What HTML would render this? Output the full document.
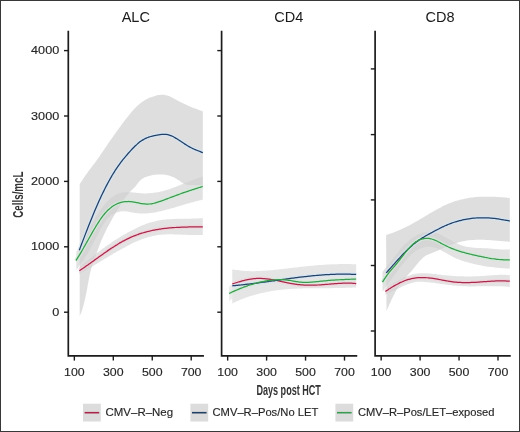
<!DOCTYPE html>
<html><head><meta charset="utf-8"><style>
html,body{margin:0;padding:0;background:#fff;}
body{width:520px;height:432px;overflow:hidden;position:relative;}
.frame{position:absolute;left:0;top:0;width:518px;height:430px;border:1px solid #383838;}
svg{position:absolute;left:0;top:0;will-change:transform;}
text{font-family:"Liberation Sans",sans-serif;fill:#262626;}
.tl{font-size:11.5px;stroke:#262626;stroke-width:0.15px;}
.tt{font-size:14.5px;fill:#1a1a1a;}
.lg{font-size:11.4px;stroke:#262626;stroke-width:0.15px;}
.at{font-size:14.5px;font-weight:bold;fill:#333;}
</style></head><body>
<div class="frame"></div>
<svg width="520" height="432" viewBox="0 0 520 432">
<path d="M79.70,184.35 C79.95,183.93 80.71,182.66 81.22,181.85 C81.73,181.04 82.23,180.25 82.74,179.47 C83.25,178.70 83.75,177.94 84.26,177.20 C84.77,176.46 85.27,175.73 85.78,175.01 C86.29,174.30 86.79,173.59 87.30,172.90 C87.81,172.20 88.31,171.52 88.82,170.84 C89.33,170.15 89.83,169.48 90.34,168.81 C90.84,168.14 91.35,167.47 91.86,166.80 C92.36,166.13 92.87,165.46 93.38,164.79 C93.88,164.12 94.39,163.45 94.90,162.77 C95.40,162.09 95.91,161.40 96.42,160.71 C96.92,160.01 97.43,159.31 97.94,158.60 C98.44,157.89 98.95,157.17 99.46,156.44 C99.96,155.72 100.47,154.99 100.98,154.25 C101.48,153.52 101.99,152.77 102.50,152.03 C103.00,151.29 103.51,150.54 104.02,149.79 C104.52,149.05 105.03,148.30 105.54,147.55 C106.04,146.80 106.55,146.05 107.06,145.31 C107.56,144.56 108.07,143.82 108.58,143.08 C109.08,142.34 109.59,141.60 110.10,140.86 C110.60,140.13 111.11,139.40 111.61,138.67 C112.12,137.94 112.63,137.21 113.13,136.49 C113.64,135.76 114.15,135.04 114.65,134.33 C115.16,133.61 115.67,132.89 116.17,132.18 C116.68,131.47 117.19,130.77 117.69,130.06 C118.20,129.36 118.71,128.66 119.21,127.97 C119.72,127.27 120.23,126.58 120.73,125.89 C121.24,125.20 121.75,124.52 122.25,123.84 C122.76,123.16 123.27,122.48 123.77,121.81 C124.28,121.14 124.79,120.47 125.29,119.81 C125.80,119.15 126.31,118.49 126.81,117.84 C127.32,117.18 127.83,116.54 128.33,115.90 C128.84,115.26 129.35,114.63 129.85,114.01 C130.36,113.39 130.87,112.77 131.37,112.17 C131.88,111.58 132.38,110.99 132.89,110.42 C133.40,109.85 133.90,109.29 134.41,108.75 C134.92,108.21 135.42,107.68 135.93,107.18 C136.44,106.67 136.94,106.18 137.45,105.72 C137.96,105.25 138.46,104.81 138.97,104.38 C139.48,103.95 139.98,103.55 140.49,103.16 C141.00,102.77 141.50,102.40 142.01,102.05 C142.52,101.69 143.02,101.36 143.53,101.03 C144.04,100.71 144.54,100.41 145.05,100.12 C145.56,99.82 146.06,99.55 146.57,99.28 C147.08,99.02 147.58,98.77 148.09,98.53 C148.60,98.29 149.10,98.06 149.61,97.85 C150.12,97.63 150.62,97.42 151.13,97.23 C151.63,97.03 152.14,96.84 152.65,96.66 C153.15,96.48 153.66,96.31 154.17,96.16 C154.67,96.00 155.18,95.85 155.69,95.72 C156.19,95.58 156.70,95.46 157.21,95.35 C157.71,95.25 158.22,95.15 158.73,95.08 C159.23,95.00 159.74,94.94 160.25,94.89 C160.75,94.85 161.26,94.82 161.77,94.82 C162.27,94.81 162.78,94.82 163.29,94.86 C163.79,94.89 164.30,94.94 164.81,95.02 C165.31,95.10 165.82,95.20 166.33,95.32 C166.83,95.45 167.34,95.59 167.85,95.76 C168.35,95.93 168.86,96.12 169.37,96.33 C169.87,96.53 170.38,96.76 170.89,97.00 C171.39,97.23 171.90,97.48 172.40,97.74 C172.91,98.00 173.42,98.27 173.92,98.54 C174.43,98.81 174.94,99.09 175.44,99.36 C175.95,99.64 176.46,99.92 176.96,100.19 C177.47,100.47 177.98,100.74 178.48,101.01 C178.99,101.28 179.50,101.55 180.00,101.81 C180.51,102.07 181.02,102.33 181.52,102.59 C182.03,102.85 182.54,103.10 183.04,103.35 C183.55,103.60 184.06,103.85 184.56,104.09 C185.07,104.33 185.58,104.57 186.08,104.81 C186.59,105.04 187.10,105.27 187.60,105.50 C188.11,105.72 188.62,105.94 189.12,106.16 C189.63,106.38 190.14,106.59 190.64,106.80 C191.15,107.01 191.66,107.21 192.16,107.41 C192.67,107.61 193.17,107.80 193.68,107.99 C194.19,108.19 194.69,108.37 195.20,108.56 C195.71,108.75 196.21,108.93 196.72,109.12 C197.23,109.30 197.73,109.49 198.24,109.67 C198.75,109.86 199.25,110.04 199.76,110.23 C200.27,110.42 200.77,110.61 201.28,110.80 C201.79,111.00 202.55,111.30 202.80,111.40 L202.80,186.50 C202.55,186.40 201.79,186.06 201.28,185.90 C200.77,185.73 200.27,185.61 199.76,185.50 C199.25,185.40 198.75,185.33 198.24,185.27 C197.73,185.22 197.23,185.19 196.72,185.17 C196.21,185.15 195.71,185.15 195.20,185.15 C194.69,185.15 194.19,185.17 193.68,185.18 C193.17,185.19 192.67,185.21 192.16,185.21 C191.66,185.22 191.15,185.23 190.64,185.22 C190.14,185.20 189.63,185.19 189.12,185.14 C188.62,185.10 188.11,185.05 187.60,184.96 C187.10,184.87 186.59,184.76 186.08,184.62 C185.58,184.47 185.07,184.30 184.56,184.09 C184.06,183.87 183.55,183.62 183.04,183.32 C182.54,183.03 182.03,182.67 181.52,182.32 C181.02,181.97 180.51,181.57 180.00,181.20 C179.50,180.84 178.99,180.46 178.48,180.12 C177.98,179.78 177.47,179.45 176.96,179.14 C176.46,178.84 175.95,178.55 175.44,178.27 C174.94,178.00 174.43,177.74 173.92,177.50 C173.42,177.26 172.91,177.03 172.40,176.82 C171.90,176.61 171.39,176.41 170.89,176.23 C170.38,176.05 169.87,175.89 169.37,175.73 C168.86,175.58 168.35,175.44 167.85,175.32 C167.34,175.19 166.83,175.08 166.33,174.99 C165.82,174.89 165.31,174.80 164.81,174.73 C164.30,174.65 163.79,174.59 163.29,174.54 C162.78,174.49 162.27,174.45 161.77,174.43 C161.26,174.40 160.75,174.39 160.25,174.38 C159.74,174.38 159.23,174.39 158.73,174.40 C158.22,174.42 157.71,174.45 157.21,174.49 C156.70,174.53 156.19,174.58 155.69,174.64 C155.18,174.70 154.67,174.77 154.17,174.85 C153.66,174.93 153.15,175.02 152.65,175.12 C152.14,175.22 151.63,175.32 151.13,175.44 C150.62,175.56 150.12,175.69 149.61,175.82 C149.10,175.96 148.60,176.10 148.09,176.25 C147.58,176.41 147.08,176.56 146.57,176.74 C146.06,176.92 145.56,177.10 145.05,177.32 C144.54,177.54 144.04,177.78 143.53,178.06 C143.02,178.34 142.52,178.65 142.01,179.02 C141.50,179.39 141.00,179.80 140.49,180.28 C139.98,180.75 139.48,181.30 138.97,181.87 C138.46,182.45 137.96,183.09 137.45,183.72 C136.94,184.35 136.44,185.02 135.93,185.64 C135.42,186.26 134.92,186.88 134.41,187.45 C133.90,188.02 133.40,188.54 132.89,189.06 C132.38,189.58 131.88,190.06 131.37,190.57 C130.87,191.08 130.36,191.57 129.85,192.10 C129.35,192.63 128.84,193.17 128.33,193.76 C127.83,194.34 127.32,194.96 126.81,195.61 C126.31,196.25 125.80,196.93 125.29,197.62 C124.79,198.32 124.28,199.05 123.77,199.79 C123.27,200.53 122.76,201.30 122.25,202.08 C121.75,202.86 121.24,203.66 120.73,204.47 C120.23,205.29 119.72,206.12 119.21,206.95 C118.71,207.79 118.20,208.64 117.69,209.49 C117.19,210.34 116.68,211.21 116.17,212.07 C115.67,212.93 115.16,213.80 114.65,214.67 C114.15,215.54 113.64,216.40 113.13,217.28 C112.63,218.15 112.12,219.03 111.61,219.92 C111.11,220.82 110.60,221.72 110.10,222.63 C109.59,223.55 109.08,224.48 108.58,225.43 C108.07,226.38 107.56,227.34 107.06,228.34 C106.55,229.33 106.04,230.34 105.54,231.38 C105.03,232.43 104.52,233.49 104.02,234.60 C103.51,235.70 103.00,236.83 102.50,238.00 C101.99,239.17 101.48,240.37 100.98,241.62 C100.47,242.86 99.96,244.15 99.46,245.47 C98.95,246.80 98.44,248.20 97.94,249.59 C97.43,250.99 96.92,252.44 96.42,253.85 C95.91,255.26 95.40,256.68 94.90,258.04 C94.39,259.40 93.88,260.64 93.38,262.03 C92.87,263.42 92.36,264.72 91.86,266.39 C91.35,268.07 90.84,269.88 90.34,272.07 C89.83,274.26 89.33,276.91 88.82,279.52 C88.31,282.13 87.81,285.07 87.30,287.74 C86.79,290.41 86.29,293.12 85.78,295.54 C85.27,297.96 84.77,300.21 84.26,302.27 C83.75,304.34 83.25,306.22 82.74,307.92 C82.23,309.63 81.73,311.15 81.22,312.49 C80.71,313.84 79.95,315.41 79.70,315.99 Z" fill="#d0d0d0" fill-opacity="0.7" stroke="none"/>
<path d="M76.30,252.20 C76.55,251.78 77.32,250.52 77.82,249.66 C78.33,248.80 78.84,247.92 79.35,247.03 C79.86,246.14 80.36,245.23 80.87,244.32 C81.38,243.40 81.89,242.47 82.40,241.54 C82.90,240.61 83.41,239.67 83.92,238.72 C84.43,237.78 84.94,236.83 85.44,235.88 C85.95,234.92 86.46,233.97 86.97,233.02 C87.48,232.06 87.98,231.11 88.49,230.16 C89.00,229.22 89.51,228.27 90.02,227.33 C90.52,226.39 91.03,225.46 91.54,224.54 C92.05,223.62 92.56,222.70 93.07,221.80 C93.57,220.90 94.08,220.01 94.59,219.13 C95.10,218.26 95.61,217.40 96.11,216.56 C96.62,215.72 97.13,214.89 97.64,214.09 C98.15,213.28 98.65,212.50 99.16,211.74 C99.67,210.98 100.18,210.24 100.69,209.53 C101.19,208.81 101.70,208.12 102.21,207.45 C102.72,206.78 103.23,206.13 103.73,205.51 C104.24,204.88 104.75,204.28 105.26,203.70 C105.77,203.12 106.27,202.57 106.78,202.03 C107.29,201.50 107.80,200.99 108.31,200.50 C108.81,200.01 109.32,199.54 109.83,199.10 C110.34,198.65 110.85,198.23 111.35,197.83 C111.86,197.42 112.37,197.05 112.88,196.69 C113.39,196.33 113.89,196.00 114.40,195.68 C114.91,195.37 115.42,195.08 115.93,194.81 C116.43,194.54 116.94,194.29 117.45,194.06 C117.96,193.84 118.47,193.63 118.97,193.45 C119.48,193.26 119.99,193.10 120.50,192.96 C121.01,192.82 121.51,192.70 122.02,192.60 C122.53,192.49 123.04,192.41 123.55,192.34 C124.06,192.28 124.56,192.23 125.07,192.19 C125.58,192.15 126.09,192.13 126.60,192.12 C127.10,192.11 127.61,192.11 128.12,192.12 C128.63,192.13 129.14,192.15 129.64,192.18 C130.15,192.21 130.66,192.25 131.17,192.29 C131.68,192.33 132.18,192.38 132.69,192.43 C133.20,192.48 133.71,192.54 134.22,192.60 C134.72,192.66 135.23,192.72 135.74,192.77 C136.25,192.83 136.76,192.89 137.26,192.95 C137.77,193.00 138.28,193.06 138.79,193.10 C139.30,193.15 139.80,193.19 140.31,193.23 C140.82,193.27 141.33,193.30 141.84,193.32 C142.34,193.35 142.85,193.37 143.36,193.38 C143.87,193.39 144.38,193.40 144.88,193.39 C145.39,193.39 145.90,193.39 146.41,193.38 C146.92,193.36 147.42,193.35 147.93,193.32 C148.44,193.30 148.95,193.27 149.46,193.23 C149.96,193.20 150.47,193.15 150.98,193.11 C151.49,193.06 152.00,193.01 152.50,192.95 C153.01,192.89 153.52,192.83 154.03,192.76 C154.54,192.69 155.04,192.61 155.55,192.53 C156.06,192.45 156.57,192.37 157.08,192.28 C157.59,192.19 158.09,192.09 158.60,191.99 C159.11,191.89 159.62,191.78 160.13,191.67 C160.63,191.56 161.14,191.44 161.65,191.32 C162.16,191.20 162.67,191.07 163.17,190.94 C163.68,190.81 164.19,190.68 164.70,190.54 C165.21,190.39 165.71,190.25 166.22,190.10 C166.73,189.95 167.24,189.79 167.75,189.64 C168.25,189.48 168.76,189.31 169.27,189.15 C169.78,188.98 170.29,188.81 170.79,188.64 C171.30,188.46 171.81,188.28 172.32,188.10 C172.83,187.92 173.33,187.74 173.84,187.55 C174.35,187.37 174.86,187.18 175.37,186.99 C175.87,186.80 176.38,186.60 176.89,186.41 C177.40,186.21 177.91,186.01 178.41,185.82 C178.92,185.62 179.43,185.42 179.94,185.21 C180.45,185.01 180.95,184.81 181.46,184.60 C181.97,184.40 182.48,184.20 182.99,183.99 C183.49,183.78 184.00,183.58 184.51,183.37 C185.02,183.17 185.53,182.96 186.03,182.75 C186.54,182.55 187.05,182.34 187.56,182.14 C188.07,181.93 188.58,181.73 189.08,181.52 C189.59,181.32 190.10,181.11 190.61,180.91 C191.12,180.71 191.62,180.51 192.13,180.31 C192.64,180.11 193.15,179.92 193.66,179.72 C194.16,179.53 194.67,179.33 195.18,179.14 C195.69,178.95 196.20,178.76 196.70,178.58 C197.21,178.39 197.72,178.21 198.23,178.03 C198.74,177.85 199.24,177.67 199.75,177.50 C200.26,177.32 200.77,177.15 201.28,176.99 C201.78,176.82 202.55,176.58 202.80,176.50 L202.80,199.57 C202.55,199.63 201.78,199.80 201.28,199.92 C200.77,200.04 200.26,200.17 199.75,200.29 C199.24,200.41 198.74,200.54 198.23,200.67 C197.72,200.80 197.21,200.93 196.70,201.06 C196.20,201.19 195.69,201.33 195.18,201.46 C194.67,201.60 194.16,201.74 193.66,201.88 C193.15,202.02 192.64,202.16 192.13,202.30 C191.62,202.44 191.12,202.58 190.61,202.73 C190.10,202.87 189.59,203.02 189.08,203.16 C188.58,203.31 188.07,203.46 187.56,203.61 C187.05,203.75 186.54,203.90 186.03,204.05 C185.53,204.20 185.02,204.35 184.51,204.50 C184.00,204.65 183.49,204.80 182.99,204.95 C182.48,205.10 181.97,205.26 181.46,205.41 C180.95,205.56 180.45,205.71 179.94,205.86 C179.43,206.01 178.92,206.16 178.41,206.31 C177.91,206.46 177.40,206.61 176.89,206.76 C176.38,206.91 175.87,207.06 175.37,207.21 C174.86,207.36 174.35,207.51 173.84,207.65 C173.33,207.80 172.83,207.95 172.32,208.09 C171.81,208.24 171.30,208.38 170.79,208.52 C170.29,208.66 169.78,208.81 169.27,208.95 C168.76,209.09 168.25,209.22 167.75,209.36 C167.24,209.50 166.73,209.63 166.22,209.77 C165.71,209.90 165.21,210.03 164.70,210.16 C164.19,210.29 163.68,210.42 163.17,210.54 C162.67,210.67 162.16,210.79 161.65,210.92 C161.14,211.04 160.63,211.16 160.13,211.27 C159.62,211.39 159.11,211.50 158.60,211.61 C158.09,211.72 157.59,211.83 157.08,211.93 C156.57,212.04 156.06,212.14 155.55,212.23 C155.04,212.33 154.54,212.42 154.03,212.51 C153.52,212.60 153.01,212.68 152.50,212.76 C152.00,212.84 151.49,212.91 150.98,212.98 C150.47,213.05 149.96,213.11 149.46,213.17 C148.95,213.23 148.44,213.28 147.93,213.32 C147.42,213.37 146.92,213.41 146.41,213.44 C145.90,213.48 145.39,213.50 144.88,213.52 C144.38,213.54 143.87,213.55 143.36,213.56 C142.85,213.57 142.34,213.56 141.84,213.55 C141.33,213.54 140.82,213.53 140.31,213.50 C139.80,213.47 139.30,213.44 138.79,213.40 C138.28,213.36 137.77,213.30 137.26,213.24 C136.76,213.18 136.25,213.11 135.74,213.04 C135.23,212.96 134.72,212.87 134.22,212.78 C133.71,212.69 133.20,212.60 132.69,212.50 C132.18,212.41 131.68,212.31 131.17,212.21 C130.66,212.12 130.15,212.02 129.64,211.93 C129.14,211.85 128.63,211.76 128.12,211.69 C127.61,211.61 127.10,211.54 126.60,211.49 C126.09,211.43 125.58,211.38 125.07,211.36 C124.56,211.33 124.06,211.31 123.55,211.31 C123.04,211.31 122.53,211.33 122.02,211.37 C121.51,211.41 121.01,211.47 120.50,211.56 C119.99,211.64 119.48,211.76 118.97,211.89 C118.47,212.02 117.96,212.18 117.45,212.34 C116.94,212.51 116.43,212.70 115.93,212.90 C115.42,213.09 114.91,213.29 114.40,213.52 C113.89,213.74 113.39,213.96 112.88,214.23 C112.37,214.49 111.86,214.78 111.35,215.12 C110.85,215.46 110.34,215.84 109.83,216.28 C109.32,216.72 108.81,217.22 108.31,217.77 C107.80,218.31 107.29,218.92 106.78,219.56 C106.27,220.21 105.77,220.90 105.26,221.63 C104.75,222.36 104.24,223.13 103.73,223.93 C103.23,224.74 102.72,225.57 102.21,226.43 C101.70,227.29 101.19,228.19 100.69,229.09 C100.18,230.00 99.67,230.93 99.16,231.87 C98.65,232.81 98.15,233.77 97.64,234.74 C97.13,235.70 96.62,236.68 96.11,237.66 C95.61,238.64 95.10,239.62 94.59,240.60 C94.08,241.59 93.57,242.57 93.07,243.54 C92.56,244.52 92.05,245.49 91.54,246.45 C91.03,247.41 90.52,248.36 90.02,249.29 C89.51,250.22 89.00,251.14 88.49,252.03 C87.98,252.93 87.48,253.80 86.97,254.65 C86.46,255.50 85.95,256.32 85.44,257.11 C84.94,257.91 84.43,258.67 83.92,259.42 C83.41,260.17 82.90,260.89 82.40,261.61 C81.89,262.33 81.38,263.03 80.87,263.72 C80.36,264.42 79.86,265.11 79.35,265.80 C78.84,266.49 78.33,267.18 77.82,267.88 C77.32,268.59 76.55,269.66 76.30,270.01 Z" fill="#d0d0d0" fill-opacity="0.62" stroke="none"/>
<path d="M79.30,267.48 C79.55,267.26 80.32,266.60 80.82,266.17 C81.33,265.74 81.84,265.30 82.35,264.87 C82.86,264.44 83.37,264.02 83.87,263.59 C84.38,263.16 84.89,262.74 85.40,262.32 C85.91,261.89 86.42,261.47 86.92,261.05 C87.43,260.63 87.94,260.22 88.45,259.80 C88.96,259.39 89.46,258.97 89.97,258.56 C90.48,258.15 90.99,257.74 91.50,257.34 C92.01,256.93 92.51,256.53 93.02,256.12 C93.53,255.72 94.04,255.32 94.55,254.92 C95.06,254.53 95.56,254.13 96.07,253.74 C96.58,253.34 97.09,252.95 97.60,252.56 C98.10,252.17 98.61,251.79 99.12,251.40 C99.63,251.02 100.14,250.64 100.65,250.26 C101.15,249.88 101.66,249.50 102.17,249.12 C102.68,248.75 103.19,248.38 103.70,248.01 C104.20,247.64 104.71,247.27 105.22,246.90 C105.73,246.54 106.24,246.18 106.74,245.82 C107.25,245.46 107.76,245.10 108.27,244.74 C108.78,244.39 109.29,244.04 109.79,243.69 C110.30,243.34 110.81,242.99 111.32,242.65 C111.83,242.30 112.33,241.96 112.84,241.62 C113.35,241.28 113.86,240.95 114.37,240.61 C114.88,240.28 115.38,239.95 115.89,239.62 C116.40,239.30 116.91,238.97 117.42,238.65 C117.93,238.33 118.43,238.01 118.94,237.69 C119.45,237.38 119.96,237.06 120.47,236.75 C120.97,236.44 121.48,236.14 121.99,235.83 C122.50,235.53 123.01,235.23 123.52,234.93 C124.02,234.63 124.53,234.33 125.04,234.04 C125.55,233.75 126.06,233.46 126.57,233.18 C127.07,232.89 127.58,232.61 128.09,232.33 C128.60,232.05 129.11,231.77 129.61,231.50 C130.12,231.23 130.63,230.96 131.14,230.69 C131.65,230.42 132.16,230.16 132.66,229.90 C133.17,229.64 133.68,229.39 134.19,229.13 C134.70,228.88 135.21,228.63 135.71,228.38 C136.22,228.14 136.73,227.89 137.24,227.66 C137.75,227.42 138.25,227.18 138.76,226.95 C139.27,226.72 139.78,226.50 140.29,226.27 C140.80,226.05 141.30,225.83 141.81,225.62 C142.32,225.41 142.83,225.20 143.34,224.99 C143.85,224.79 144.35,224.59 144.86,224.40 C145.37,224.20 145.88,224.01 146.39,223.83 C146.89,223.65 147.40,223.47 147.91,223.30 C148.42,223.12 148.93,222.95 149.44,222.79 C149.94,222.63 150.45,222.48 150.96,222.33 C151.47,222.18 151.98,222.03 152.49,221.89 C152.99,221.76 153.50,221.62 154.01,221.50 C154.52,221.37 155.03,221.25 155.53,221.14 C156.04,221.03 156.55,220.92 157.06,220.82 C157.57,220.71 158.08,220.62 158.58,220.53 C159.09,220.43 159.60,220.35 160.11,220.27 C160.62,220.18 161.13,220.11 161.63,220.03 C162.14,219.96 162.65,219.89 163.16,219.83 C163.67,219.76 164.17,219.70 164.68,219.65 C165.19,219.59 165.70,219.54 166.21,219.49 C166.72,219.44 167.22,219.40 167.73,219.35 C168.24,219.31 168.75,219.27 169.26,219.24 C169.77,219.20 170.27,219.17 170.78,219.14 C171.29,219.10 171.80,219.08 172.31,219.05 C172.81,219.02 173.32,219.00 173.83,218.98 C174.34,218.96 174.85,218.94 175.36,218.92 C175.86,218.90 176.37,218.89 176.88,218.87 C177.39,218.86 177.90,218.84 178.40,218.83 C178.91,218.82 179.42,218.81 179.93,218.80 C180.44,218.79 180.95,218.78 181.45,218.77 C181.96,218.76 182.47,218.76 182.98,218.75 C183.49,218.74 184.00,218.73 184.50,218.73 C185.01,218.72 185.52,218.72 186.03,218.71 C186.54,218.70 187.04,218.70 187.55,218.69 C188.06,218.68 188.57,218.67 189.08,218.67 C189.59,218.66 190.09,218.65 190.60,218.64 C191.11,218.63 191.62,218.62 192.13,218.61 C192.64,218.59 193.14,218.58 193.65,218.57 C194.16,218.55 194.67,218.54 195.18,218.52 C195.68,218.50 196.19,218.48 196.70,218.46 C197.21,218.44 197.72,218.41 198.23,218.39 C198.73,218.36 199.24,218.33 199.75,218.30 C200.26,218.27 200.77,218.24 201.28,218.20 C201.78,218.17 202.55,218.10 202.80,218.08 L202.80,234.98 C202.55,234.99 201.78,235.03 201.28,235.04 C200.77,235.06 200.26,235.08 199.75,235.09 C199.24,235.10 198.73,235.11 198.23,235.11 C197.72,235.12 197.21,235.12 196.70,235.12 C196.19,235.12 195.68,235.12 195.18,235.11 C194.67,235.11 194.16,235.10 193.65,235.09 C193.14,235.08 192.64,235.07 192.13,235.06 C191.62,235.04 191.11,235.03 190.60,235.01 C190.09,235.00 189.59,234.98 189.08,234.96 C188.57,234.94 188.06,234.92 187.55,234.90 C187.04,234.88 186.54,234.86 186.03,234.84 C185.52,234.82 185.01,234.79 184.50,234.77 C184.00,234.75 183.49,234.73 182.98,234.70 C182.47,234.68 181.96,234.66 181.45,234.64 C180.95,234.62 180.44,234.59 179.93,234.57 C179.42,234.55 178.91,234.53 178.40,234.51 C177.90,234.49 177.39,234.48 176.88,234.46 C176.37,234.44 175.86,234.43 175.36,234.41 C174.85,234.40 174.34,234.39 173.83,234.38 C173.32,234.37 172.81,234.36 172.31,234.35 C171.80,234.35 171.29,234.34 170.78,234.34 C170.27,234.34 169.77,234.34 169.26,234.34 C168.75,234.35 168.24,234.35 167.73,234.36 C167.22,234.37 166.72,234.39 166.21,234.40 C165.70,234.42 165.19,234.44 164.68,234.47 C164.17,234.49 163.67,234.52 163.16,234.55 C162.65,234.58 162.14,234.62 161.63,234.66 C161.13,234.71 160.62,234.75 160.11,234.80 C159.60,234.86 159.09,234.91 158.58,234.98 C158.08,235.04 157.57,235.11 157.06,235.18 C156.55,235.25 156.04,235.33 155.53,235.42 C155.03,235.51 154.52,235.60 154.01,235.70 C153.50,235.80 152.99,235.91 152.49,236.02 C151.98,236.13 151.47,236.25 150.96,236.38 C150.45,236.51 149.94,236.64 149.44,236.78 C148.93,236.92 148.42,237.07 147.91,237.22 C147.40,237.37 146.89,237.53 146.39,237.69 C145.88,237.86 145.37,238.03 144.86,238.20 C144.35,238.38 143.85,238.56 143.34,238.74 C142.83,238.93 142.32,239.12 141.81,239.32 C141.30,239.51 140.80,239.71 140.29,239.92 C139.78,240.12 139.27,240.33 138.76,240.54 C138.25,240.76 137.75,240.98 137.24,241.20 C136.73,241.42 136.22,241.65 135.71,241.87 C135.21,242.10 134.70,242.34 134.19,242.57 C133.68,242.81 133.17,243.05 132.66,243.29 C132.16,243.53 131.65,243.78 131.14,244.03 C130.63,244.28 130.12,244.53 129.61,244.78 C129.11,245.04 128.60,245.30 128.09,245.56 C127.58,245.82 127.07,246.08 126.57,246.34 C126.06,246.61 125.55,246.88 125.04,247.15 C124.53,247.42 124.02,247.69 123.52,247.97 C123.01,248.24 122.50,248.52 121.99,248.80 C121.48,249.08 120.97,249.36 120.47,249.64 C119.96,249.92 119.45,250.21 118.94,250.50 C118.43,250.78 117.93,251.07 117.42,251.36 C116.91,251.65 116.40,251.94 115.89,252.24 C115.38,252.53 114.88,252.83 114.37,253.12 C113.86,253.42 113.35,253.72 112.84,254.01 C112.33,254.31 111.83,254.61 111.32,254.91 C110.81,255.21 110.30,255.52 109.79,255.82 C109.29,256.12 108.78,256.42 108.27,256.73 C107.76,257.03 107.25,257.34 106.74,257.64 C106.24,257.95 105.73,258.26 105.22,258.56 C104.71,258.87 104.20,259.18 103.70,259.48 C103.19,259.79 102.68,260.10 102.17,260.40 C101.66,260.71 101.15,261.02 100.65,261.33 C100.14,261.63 99.63,261.94 99.12,262.25 C98.61,262.56 98.10,262.86 97.60,263.17 C97.09,263.48 96.58,263.78 96.07,264.09 C95.56,264.39 95.06,264.70 94.55,265.00 C94.04,265.31 93.53,265.61 93.02,265.92 C92.51,266.22 92.01,266.52 91.50,266.82 C90.99,267.12 90.48,267.42 89.97,267.72 C89.46,268.02 88.96,268.32 88.45,268.62 C87.94,268.91 87.43,269.21 86.92,269.50 C86.42,269.80 85.91,270.09 85.40,270.38 C84.89,270.67 84.38,270.96 83.87,271.25 C83.37,271.54 82.86,271.82 82.35,272.11 C81.84,272.39 81.33,272.67 80.82,272.95 C80.32,273.23 79.55,273.65 79.30,273.79 Z" fill="#d0d0d0" fill-opacity="0.6" stroke="none"/>
<path d="M232.30,269.37 C232.55,269.42 233.32,269.56 233.83,269.65 C234.34,269.73 234.85,269.82 235.36,269.89 C235.87,269.97 236.38,270.05 236.89,270.12 C237.40,270.19 237.91,270.26 238.42,270.32 C238.93,270.38 239.44,270.44 239.95,270.50 C240.46,270.55 240.97,270.60 241.48,270.65 C241.99,270.70 242.50,270.74 243.01,270.78 C243.52,270.82 244.03,270.86 244.54,270.89 C245.05,270.93 245.56,270.96 246.07,270.99 C246.58,271.01 247.09,271.04 247.60,271.06 C248.11,271.08 248.62,271.10 249.13,271.11 C249.64,271.12 250.15,271.14 250.66,271.14 C251.17,271.15 251.68,271.16 252.19,271.16 C252.70,271.16 253.20,271.16 253.71,271.16 C254.22,271.16 254.73,271.15 255.24,271.15 C255.75,271.14 256.26,271.13 256.77,271.12 C257.28,271.10 257.79,271.09 258.30,271.07 C258.81,271.05 259.32,271.03 259.83,271.01 C260.34,270.99 260.85,270.97 261.36,270.94 C261.87,270.92 262.38,270.89 262.89,270.86 C263.40,270.83 263.91,270.80 264.42,270.76 C264.93,270.73 265.44,270.69 265.95,270.66 C266.46,270.62 266.97,270.58 267.48,270.54 C267.99,270.50 268.50,270.46 269.01,270.42 C269.52,270.37 270.03,270.33 270.54,270.28 C271.05,270.24 271.56,270.19 272.07,270.14 C272.58,270.09 273.09,270.04 273.60,269.99 C274.11,269.94 274.62,269.89 275.13,269.83 C275.64,269.78 276.15,269.73 276.66,269.67 C277.17,269.62 277.68,269.56 278.19,269.51 C278.70,269.45 279.21,269.39 279.72,269.34 C280.23,269.28 280.74,269.22 281.25,269.16 C281.76,269.11 282.27,269.05 282.78,268.99 C283.29,268.93 283.80,268.87 284.31,268.81 C284.82,268.75 285.33,268.69 285.84,268.63 C286.35,268.57 286.86,268.51 287.37,268.45 C287.88,268.39 288.39,268.33 288.90,268.27 C289.41,268.21 289.92,268.15 290.43,268.09 C290.94,268.03 291.45,267.97 291.96,267.91 C292.47,267.85 292.98,267.79 293.49,267.73 C294.00,267.68 294.50,267.62 295.01,267.56 C295.52,267.50 296.03,267.44 296.54,267.38 C297.05,267.33 297.56,267.27 298.07,267.21 C298.58,267.16 299.09,267.10 299.60,267.04 C300.11,266.99 300.62,266.93 301.13,266.87 C301.64,266.82 302.15,266.76 302.66,266.71 C303.17,266.65 303.68,266.60 304.19,266.55 C304.70,266.49 305.21,266.44 305.72,266.39 C306.23,266.33 306.74,266.28 307.25,266.23 C307.76,266.18 308.27,266.13 308.78,266.08 C309.29,266.03 309.80,265.98 310.31,265.93 C310.82,265.88 311.33,265.83 311.84,265.78 C312.35,265.73 312.86,265.69 313.37,265.64 C313.88,265.59 314.39,265.55 314.90,265.50 C315.41,265.46 315.92,265.41 316.43,265.37 C316.94,265.33 317.45,265.28 317.96,265.24 C318.47,265.20 318.98,265.16 319.49,265.12 C320.00,265.08 320.51,265.04 321.02,265.00 C321.53,264.97 322.04,264.93 322.55,264.89 C323.06,264.86 323.57,264.82 324.08,264.79 C324.59,264.75 325.10,264.72 325.61,264.69 C326.12,264.66 326.63,264.62 327.14,264.59 C327.65,264.56 328.16,264.54 328.67,264.51 C329.18,264.48 329.69,264.45 330.20,264.43 C330.71,264.40 331.22,264.38 331.73,264.35 C332.24,264.33 332.75,264.31 333.26,264.29 C333.77,264.27 334.28,264.25 334.79,264.23 C335.30,264.21 335.80,264.20 336.31,264.18 C336.82,264.16 337.33,264.15 337.84,264.14 C338.35,264.13 338.86,264.11 339.37,264.10 C339.88,264.09 340.39,264.08 340.90,264.08 C341.41,264.07 341.92,264.06 342.43,264.06 C342.94,264.06 343.45,264.05 343.96,264.05 C344.47,264.05 344.98,264.05 345.49,264.05 C346.00,264.05 346.51,264.06 347.02,264.06 C347.53,264.07 348.04,264.07 348.55,264.08 C349.06,264.09 349.57,264.10 350.08,264.11 C350.59,264.12 351.10,264.14 351.61,264.15 C352.12,264.17 352.63,264.18 353.14,264.20 C353.65,264.22 354.16,264.24 354.67,264.26 C355.18,264.28 355.95,264.32 356.20,264.33 L356.20,287.45 C355.95,287.46 355.18,287.51 354.67,287.54 C354.16,287.57 353.65,287.59 353.14,287.62 C352.63,287.65 352.12,287.67 351.61,287.69 C351.10,287.72 350.59,287.74 350.08,287.76 C349.57,287.78 349.06,287.80 348.55,287.82 C348.04,287.84 347.53,287.86 347.02,287.87 C346.51,287.89 346.00,287.91 345.49,287.92 C344.98,287.93 344.47,287.95 343.96,287.96 C343.45,287.97 342.94,287.98 342.43,288.00 C341.92,288.01 341.41,288.02 340.90,288.03 C340.39,288.04 339.88,288.04 339.37,288.05 C338.86,288.06 338.35,288.07 337.84,288.07 C337.33,288.08 336.82,288.09 336.31,288.09 C335.80,288.10 335.30,288.10 334.79,288.11 C334.28,288.11 333.77,288.12 333.26,288.12 C332.75,288.12 332.24,288.13 331.73,288.13 C331.22,288.13 330.71,288.13 330.20,288.14 C329.69,288.14 329.18,288.14 328.67,288.14 C328.16,288.14 327.65,288.14 327.14,288.15 C326.63,288.15 326.12,288.15 325.61,288.15 C325.10,288.15 324.59,288.15 324.08,288.15 C323.57,288.15 323.06,288.16 322.55,288.16 C322.04,288.16 321.53,288.16 321.02,288.16 C320.51,288.16 320.00,288.16 319.49,288.16 C318.98,288.17 318.47,288.17 317.96,288.17 C317.45,288.17 316.94,288.18 316.43,288.18 C315.92,288.18 315.41,288.18 314.90,288.19 C314.39,288.19 313.88,288.20 313.37,288.20 C312.86,288.21 312.35,288.21 311.84,288.22 C311.33,288.22 310.82,288.23 310.31,288.24 C309.80,288.24 309.29,288.25 308.78,288.26 C308.27,288.27 307.76,288.27 307.25,288.28 C306.74,288.29 306.23,288.30 305.72,288.32 C305.21,288.33 304.70,288.34 304.19,288.35 C303.68,288.37 303.17,288.38 302.66,288.39 C302.15,288.41 301.64,288.43 301.13,288.44 C300.62,288.46 300.11,288.48 299.60,288.50 C299.09,288.52 298.58,288.54 298.07,288.56 C297.56,288.58 297.05,288.60 296.54,288.63 C296.03,288.65 295.52,288.67 295.01,288.70 C294.50,288.73 294.00,288.76 293.49,288.78 C292.98,288.81 292.47,288.84 291.96,288.88 C291.45,288.91 290.94,288.94 290.43,288.98 C289.92,289.01 289.41,289.05 288.90,289.09 C288.39,289.13 287.88,289.17 287.37,289.21 C286.86,289.25 286.35,289.29 285.84,289.34 C285.33,289.38 284.82,289.43 284.31,289.48 C283.80,289.53 283.29,289.58 282.78,289.63 C282.27,289.68 281.76,289.73 281.25,289.79 C280.74,289.85 280.23,289.91 279.72,289.97 C279.21,290.03 278.70,290.09 278.19,290.15 C277.68,290.22 277.17,290.28 276.66,290.35 C276.15,290.42 275.64,290.49 275.13,290.56 C274.62,290.64 274.11,290.71 273.60,290.79 C273.09,290.87 272.58,290.94 272.07,291.03 C271.56,291.11 271.05,291.19 270.54,291.28 C270.03,291.37 269.52,291.46 269.01,291.55 C268.50,291.64 267.99,291.73 267.48,291.83 C266.97,291.93 266.46,292.03 265.95,292.13 C265.44,292.23 264.93,292.34 264.42,292.44 C263.91,292.55 263.40,292.66 262.89,292.78 C262.38,292.89 261.87,293.00 261.36,293.12 C260.85,293.24 260.34,293.36 259.83,293.49 C259.32,293.61 258.81,293.74 258.30,293.87 C257.79,294.00 257.28,294.13 256.77,294.27 C256.26,294.41 255.75,294.55 255.24,294.69 C254.73,294.83 254.22,294.98 253.71,295.13 C253.20,295.28 252.70,295.43 252.19,295.58 C251.68,295.74 251.17,295.90 250.66,296.06 C250.15,296.22 249.64,296.39 249.13,296.56 C248.62,296.73 248.11,296.90 247.60,297.07 C247.09,297.25 246.58,297.43 246.07,297.61 C245.56,297.80 245.05,297.98 244.54,298.17 C244.03,298.36 243.52,298.56 243.01,298.75 C242.50,298.95 241.99,299.15 241.48,299.36 C240.97,299.56 240.46,299.77 239.95,299.98 C239.44,300.20 238.93,300.41 238.42,300.63 C237.91,300.85 237.40,301.08 236.89,301.30 C236.38,301.53 235.87,301.76 235.36,302.00 C234.85,302.24 234.34,302.48 233.83,302.72 C233.32,302.97 232.55,303.34 232.30,303.47 Z" fill="#d0d0d0" fill-opacity="0.56" stroke="none"/>
<path d="M229.10,286.50 C229.37,286.30 230.17,285.72 230.70,285.30 C231.23,284.88 232.03,284.22 232.30,284.00 L232.30,298.50 C232.03,298.72 231.23,299.38 230.70,299.80 C230.17,300.22 229.37,300.80 229.10,301.00 Z" fill="#d0d0d0" fill-opacity="0.4" stroke="none"/>
<path d="M386.10,234.95 C386.35,234.88 387.12,234.66 387.63,234.50 C388.14,234.34 388.65,234.18 389.15,234.02 C389.66,233.85 390.17,233.68 390.68,233.51 C391.19,233.33 391.70,233.15 392.21,232.97 C392.72,232.79 393.23,232.60 393.74,232.40 C394.24,232.21 394.75,232.01 395.26,231.81 C395.77,231.61 396.28,231.40 396.79,231.19 C397.30,230.98 397.81,230.77 398.32,230.55 C398.83,230.33 399.34,230.11 399.84,229.89 C400.35,229.66 400.86,229.43 401.37,229.20 C401.88,228.96 402.39,228.73 402.90,228.49 C403.41,228.25 403.92,228.00 404.43,227.75 C404.93,227.51 405.44,227.26 405.95,227.00 C406.46,226.75 406.97,226.49 407.48,226.23 C407.99,225.97 408.50,225.71 409.01,225.44 C409.52,225.18 410.03,224.91 410.53,224.64 C411.04,224.37 411.55,224.09 412.06,223.81 C412.57,223.54 413.08,223.26 413.59,222.98 C414.10,222.69 414.61,222.41 415.12,222.12 C415.63,221.84 416.13,221.55 416.64,221.26 C417.15,220.97 417.66,220.67 418.17,220.38 C418.68,220.08 419.19,219.79 419.70,219.49 C420.21,219.19 420.72,218.89 421.22,218.59 C421.73,218.29 422.24,217.98 422.75,217.68 C423.26,217.38 423.77,217.07 424.28,216.77 C424.79,216.46 425.30,216.16 425.81,215.85 C426.32,215.55 426.82,215.24 427.33,214.94 C427.84,214.63 428.35,214.33 428.86,214.02 C429.37,213.72 429.88,213.42 430.39,213.12 C430.90,212.82 431.41,212.52 431.91,212.22 C432.42,211.92 432.93,211.62 433.44,211.33 C433.95,211.04 434.46,210.74 434.97,210.45 C435.48,210.16 435.99,209.88 436.50,209.59 C437.01,209.31 437.51,209.03 438.02,208.75 C438.53,208.48 439.04,208.20 439.55,207.93 C440.06,207.66 440.57,207.40 441.08,207.13 C441.59,206.87 442.10,206.62 442.60,206.36 C443.11,206.11 443.62,205.86 444.13,205.62 C444.64,205.38 445.15,205.14 445.66,204.91 C446.17,204.68 446.68,204.45 447.19,204.23 C447.70,204.01 448.20,203.80 448.71,203.59 C449.22,203.38 449.73,203.17 450.24,202.98 C450.75,202.78 451.26,202.59 451.77,202.40 C452.28,202.21 452.79,202.03 453.30,201.85 C453.80,201.68 454.31,201.51 454.82,201.34 C455.33,201.18 455.84,201.01 456.35,200.86 C456.86,200.70 457.37,200.55 457.88,200.41 C458.39,200.26 458.89,200.12 459.40,199.98 C459.91,199.85 460.42,199.72 460.93,199.59 C461.44,199.46 461.95,199.34 462.46,199.22 C462.97,199.11 463.48,198.99 463.99,198.89 C464.49,198.78 465.00,198.67 465.51,198.57 C466.02,198.48 466.53,198.38 467.04,198.29 C467.55,198.20 468.06,198.11 468.57,198.03 C469.08,197.95 469.58,197.87 470.09,197.79 C470.60,197.72 471.11,197.65 471.62,197.58 C472.13,197.52 472.64,197.45 473.15,197.39 C473.66,197.34 474.17,197.28 474.68,197.23 C475.18,197.18 475.69,197.13 476.20,197.09 C476.71,197.04 477.22,197.00 477.73,196.96 C478.24,196.93 478.75,196.89 479.26,196.86 C479.77,196.83 480.27,196.80 480.78,196.78 C481.29,196.76 481.80,196.73 482.31,196.72 C482.82,196.70 483.33,196.68 483.84,196.67 C484.35,196.66 484.86,196.65 485.37,196.65 C485.87,196.64 486.38,196.64 486.89,196.64 C487.40,196.64 487.91,196.64 488.42,196.64 C488.93,196.65 489.44,196.66 489.95,196.67 C490.46,196.68 490.97,196.69 491.47,196.70 C491.98,196.72 492.49,196.74 493.00,196.76 C493.51,196.78 494.02,196.80 494.53,196.82 C495.04,196.85 495.55,196.87 496.06,196.90 C496.56,196.93 497.07,196.96 497.58,196.99 C498.09,197.02 498.60,197.06 499.11,197.09 C499.62,197.13 500.13,197.17 500.64,197.21 C501.15,197.25 501.66,197.29 502.16,197.33 C502.67,197.37 503.18,197.42 503.69,197.46 C504.20,197.51 504.71,197.56 505.22,197.61 C505.73,197.66 506.24,197.71 506.75,197.76 C507.25,197.81 507.76,197.86 508.27,197.91 C508.78,197.97 509.55,198.05 509.80,198.08 L509.80,241.74 C509.55,241.72 508.79,241.68 508.28,241.64 C507.77,241.61 507.26,241.57 506.76,241.54 C506.25,241.50 505.74,241.46 505.23,241.42 C504.73,241.38 504.22,241.34 503.71,241.30 C503.20,241.26 502.70,241.22 502.19,241.17 C501.68,241.13 501.17,241.09 500.67,241.05 C500.16,241.00 499.65,240.96 499.14,240.91 C498.64,240.87 498.13,240.83 497.62,240.78 C497.11,240.74 496.61,240.70 496.10,240.65 C495.59,240.61 495.09,240.57 494.58,240.53 C494.07,240.49 493.56,240.45 493.06,240.41 C492.55,240.37 492.04,240.33 491.53,240.29 C491.03,240.25 490.52,240.22 490.01,240.18 C489.50,240.15 489.00,240.12 488.49,240.09 C487.98,240.06 487.47,240.03 486.97,240.00 C486.46,239.97 485.95,239.95 485.44,239.92 C484.94,239.90 484.43,239.88 483.92,239.86 C483.41,239.85 482.91,239.83 482.40,239.82 C481.89,239.81 481.39,239.80 480.88,239.79 C480.37,239.78 479.86,239.78 479.36,239.78 C478.85,239.78 478.34,239.78 477.83,239.79 C477.33,239.80 476.82,239.81 476.31,239.82 C475.80,239.84 475.30,239.86 474.79,239.88 C474.28,239.90 473.77,239.93 473.27,239.96 C472.76,239.99 472.25,240.03 471.74,240.07 C471.24,240.11 470.73,240.16 470.22,240.21 C469.71,240.26 469.21,240.31 468.70,240.37 C468.19,240.43 467.69,240.50 467.18,240.57 C466.67,240.64 466.16,240.71 465.66,240.80 C465.15,240.88 464.64,240.97 464.13,241.06 C463.63,241.15 463.12,241.25 462.61,241.36 C462.10,241.47 461.60,241.58 461.09,241.70 C460.58,241.82 460.07,241.94 459.57,242.07 C459.06,242.21 458.55,242.34 458.04,242.49 C457.54,242.64 457.03,242.79 456.52,242.95 C456.01,243.11 455.51,243.27 455.00,243.45 C454.49,243.62 453.99,243.80 453.48,243.98 C452.97,244.16 452.46,244.35 451.96,244.55 C451.45,244.74 450.94,244.94 450.43,245.14 C449.93,245.34 449.42,245.55 448.91,245.75 C448.40,245.96 447.90,246.18 447.39,246.39 C446.88,246.61 446.37,246.82 445.87,247.04 C445.36,247.26 444.85,247.48 444.34,247.71 C443.84,247.93 443.33,248.16 442.82,248.38 C442.31,248.60 441.81,248.83 441.30,249.06 C440.79,249.28 440.29,249.51 439.78,249.73 C439.27,249.96 438.76,250.18 438.26,250.41 C437.75,250.63 437.24,250.85 436.73,251.07 C436.23,251.29 435.72,251.51 435.21,251.73 C434.70,251.94 434.20,252.15 433.69,252.36 C433.18,252.57 432.67,252.78 432.17,252.98 C431.66,253.19 431.15,253.38 430.64,253.58 C430.14,253.78 429.63,253.97 429.12,254.18 C428.61,254.39 428.11,254.59 427.60,254.83 C427.09,255.07 426.59,255.32 426.08,255.61 C425.57,255.90 425.06,256.22 424.56,256.58 C424.05,256.94 423.54,257.34 423.03,257.78 C422.53,258.21 422.02,258.69 421.51,259.20 C421.00,259.70 420.50,260.24 419.99,260.79 C419.48,261.35 418.97,261.93 418.47,262.52 C417.96,263.12 417.45,263.73 416.94,264.35 C416.44,264.96 415.93,265.59 415.42,266.22 C414.91,266.84 414.41,267.48 413.90,268.10 C413.39,268.72 412.89,269.34 412.38,269.95 C411.87,270.55 411.36,271.15 410.86,271.74 C410.35,272.32 409.84,272.89 409.33,273.45 C408.83,274.01 408.32,274.55 407.81,275.11 C407.30,275.66 406.80,276.20 406.29,276.75 C405.78,277.31 405.27,277.86 404.77,278.43 C404.26,279.01 403.75,279.59 403.24,280.20 C402.74,280.80 402.23,281.43 401.72,282.08 C401.21,282.74 400.71,283.42 400.20,284.14 C399.69,284.86 399.19,285.62 398.68,286.41 C398.17,287.20 397.66,288.04 397.16,288.90 C396.65,289.77 396.14,290.67 395.63,291.61 C395.13,292.54 394.62,293.50 394.11,294.49 C393.60,295.48 393.10,296.50 392.59,297.55 C392.08,298.59 391.57,299.66 391.07,300.75 C390.56,301.83 390.05,302.95 389.54,304.08 C389.04,305.20 388.53,306.35 388.02,307.51 C387.51,308.67 386.75,310.45 386.50,311.04 Z" fill="#d0d0d0" fill-opacity="0.7" stroke="none"/>
<path d="M382.50,271.92 C382.76,271.59 383.52,270.57 384.03,269.92 C384.54,269.27 385.06,268.64 385.57,268.02 C386.08,267.40 386.59,266.79 387.10,266.18 C387.61,265.56 388.12,264.96 388.63,264.34 C389.15,263.72 389.66,263.10 390.17,262.47 C390.68,261.84 391.19,261.19 391.70,260.54 C392.21,259.88 392.72,259.20 393.24,258.52 C393.75,257.84 394.26,257.14 394.77,256.46 C395.28,255.77 395.79,255.08 396.30,254.41 C396.81,253.73 397.33,253.06 397.84,252.42 C398.35,251.77 398.86,251.13 399.37,250.51 C399.88,249.90 400.39,249.29 400.90,248.71 C401.42,248.12 401.93,247.55 402.44,246.99 C402.95,246.43 403.46,245.89 403.97,245.37 C404.48,244.84 404.99,244.33 405.51,243.83 C406.02,243.34 406.53,242.85 407.04,242.39 C407.55,241.92 408.06,241.47 408.57,241.03 C409.08,240.59 409.60,240.16 410.11,239.76 C410.62,239.35 411.13,238.95 411.64,238.57 C412.15,238.19 412.66,237.82 413.17,237.47 C413.69,237.12 414.20,236.79 414.71,236.47 C415.22,236.15 415.73,235.84 416.24,235.55 C416.75,235.27 417.26,234.99 417.78,234.74 C418.29,234.48 418.80,234.24 419.31,234.02 C419.82,233.79 420.33,233.58 420.84,233.39 C421.35,233.20 421.87,233.03 422.38,232.87 C422.89,232.72 423.40,232.58 423.91,232.45 C424.42,232.33 424.93,232.23 425.44,232.14 C425.96,232.05 426.47,231.98 426.98,231.93 C427.49,231.88 428.00,231.85 428.51,231.84 C429.02,231.82 429.53,231.82 430.05,231.85 C430.56,231.87 431.07,231.91 431.58,231.97 C432.09,232.03 432.60,232.11 433.11,232.21 C433.62,232.31 434.14,232.43 434.65,232.56 C435.16,232.69 435.67,232.84 436.18,233.00 C436.69,233.17 437.20,233.34 437.71,233.54 C438.23,233.73 438.74,233.93 439.25,234.15 C439.76,234.36 440.27,234.59 440.78,234.82 C441.29,235.06 441.80,235.30 442.32,235.56 C442.83,235.81 443.34,236.07 443.85,236.34 C444.36,236.60 444.87,236.88 445.38,237.16 C445.89,237.43 446.41,237.72 446.92,238.00 C447.43,238.28 447.94,238.57 448.45,238.86 C448.96,239.15 449.47,239.44 449.98,239.72 C450.50,240.01 451.01,240.30 451.52,240.58 C452.03,240.87 452.54,241.15 453.05,241.43 C453.56,241.71 454.07,241.98 454.59,242.25 C455.10,242.52 455.61,242.78 456.12,243.03 C456.63,243.29 457.14,243.53 457.65,243.77 C458.16,244.01 458.68,244.24 459.19,244.45 C459.70,244.67 460.21,244.87 460.72,245.07 C461.23,245.26 461.74,245.44 462.25,245.61 C462.77,245.78 463.28,245.93 463.79,246.08 C464.30,246.22 464.81,246.36 465.32,246.48 C465.83,246.60 466.34,246.72 466.86,246.82 C467.37,246.93 467.88,247.02 468.39,247.11 C468.90,247.20 469.41,247.27 469.92,247.35 C470.43,247.42 470.95,247.48 471.46,247.54 C471.97,247.60 472.48,247.65 472.99,247.69 C473.50,247.74 474.01,247.78 474.52,247.82 C475.04,247.85 475.55,247.89 476.06,247.91 C476.57,247.94 477.08,247.97 477.59,247.99 C478.10,248.01 478.61,248.03 479.13,248.05 C479.64,248.07 480.15,248.08 480.66,248.10 C481.17,248.11 481.68,248.13 482.19,248.14 C482.70,248.16 483.22,248.17 483.73,248.19 C484.24,248.21 484.75,248.22 485.26,248.24 C485.77,248.26 486.28,248.29 486.79,248.31 C487.31,248.34 487.82,248.36 488.33,248.40 C488.84,248.43 489.35,248.47 489.86,248.50 C490.37,248.54 490.88,248.59 491.40,248.63 C491.91,248.68 492.42,248.72 492.93,248.77 C493.44,248.82 493.95,248.87 494.46,248.92 C494.97,248.97 495.49,249.02 496.00,249.07 C496.51,249.12 497.02,249.17 497.53,249.21 C498.04,249.26 498.55,249.30 499.06,249.34 C499.58,249.38 500.09,249.42 500.60,249.45 C501.11,249.48 501.62,249.51 502.13,249.54 C502.64,249.56 503.15,249.58 503.67,249.59 C504.18,249.60 504.69,249.61 505.20,249.61 C505.71,249.60 506.22,249.59 506.73,249.58 C507.24,249.56 507.76,249.53 508.27,249.50 C508.78,249.46 509.54,249.38 509.80,249.36 L509.80,268.63 C509.54,268.62 508.78,268.60 508.27,268.58 C507.76,268.56 507.24,268.54 506.73,268.51 C506.22,268.49 505.71,268.46 505.20,268.43 C504.69,268.40 504.18,268.37 503.67,268.34 C503.15,268.30 502.64,268.27 502.13,268.23 C501.62,268.19 501.11,268.15 500.60,268.11 C500.09,268.07 499.58,268.02 499.06,267.98 C498.55,267.93 498.04,267.88 497.53,267.83 C497.02,267.78 496.51,267.73 496.00,267.67 C495.49,267.62 494.97,267.56 494.46,267.50 C493.95,267.44 493.44,267.38 492.93,267.32 C492.42,267.25 491.91,267.19 491.40,267.12 C490.88,267.05 490.37,266.98 489.86,266.91 C489.35,266.84 488.84,266.76 488.33,266.68 C487.82,266.61 487.31,266.53 486.79,266.44 C486.28,266.36 485.77,266.28 485.26,266.19 C484.75,266.11 484.24,266.02 483.73,265.93 C483.22,265.84 482.70,265.74 482.19,265.65 C481.68,265.55 481.17,265.45 480.66,265.35 C480.15,265.25 479.64,265.15 479.13,265.05 C478.61,264.94 478.10,264.84 477.59,264.73 C477.08,264.62 476.57,264.50 476.06,264.39 C475.55,264.28 475.04,264.16 474.52,264.04 C474.01,263.92 473.50,263.80 472.99,263.68 C472.48,263.56 471.97,263.43 471.46,263.30 C470.95,263.17 470.43,263.04 469.92,262.91 C469.41,262.78 468.90,262.64 468.39,262.51 C467.88,262.37 467.37,262.23 466.86,262.09 C466.34,261.94 465.83,261.80 465.32,261.65 C464.81,261.50 464.30,261.35 463.79,261.19 C463.28,261.03 462.77,260.87 462.25,260.70 C461.74,260.53 461.23,260.36 460.72,260.18 C460.21,260.00 459.70,259.82 459.19,259.62 C458.68,259.43 458.16,259.23 457.65,259.02 C457.14,258.82 456.63,258.60 456.12,258.38 C455.61,258.15 455.10,257.92 454.59,257.68 C454.07,257.43 453.56,257.18 453.05,256.92 C452.54,256.66 452.03,256.39 451.52,256.11 C451.01,255.83 450.50,255.55 449.98,255.26 C449.47,254.97 448.96,254.68 448.45,254.39 C447.94,254.09 447.43,253.80 446.92,253.50 C446.41,253.21 445.89,252.91 445.38,252.62 C444.87,252.33 444.36,252.03 443.85,251.75 C443.34,251.46 442.83,251.18 442.32,250.91 C441.80,250.64 441.29,250.37 440.78,250.11 C440.27,249.86 439.76,249.61 439.25,249.37 C438.74,249.14 438.23,248.91 437.71,248.70 C437.20,248.49 436.69,248.29 436.18,248.11 C435.67,247.93 435.16,247.76 434.65,247.62 C434.14,247.47 433.62,247.34 433.11,247.23 C432.60,247.13 432.09,247.04 431.58,246.97 C431.07,246.90 430.56,246.85 430.05,246.82 C429.53,246.79 429.02,246.78 428.51,246.78 C428.00,246.79 427.49,246.82 426.98,246.87 C426.47,246.92 425.96,246.99 425.44,247.07 C424.93,247.16 424.42,247.27 423.91,247.40 C423.40,247.53 422.89,247.67 422.38,247.84 C421.87,248.01 421.35,248.20 420.84,248.40 C420.33,248.61 419.82,248.84 419.31,249.09 C418.80,249.34 418.29,249.61 417.78,249.90 C417.26,250.19 416.75,250.50 416.24,250.83 C415.73,251.16 415.22,251.51 414.71,251.88 C414.20,252.25 413.69,252.64 413.17,253.05 C412.66,253.47 412.15,253.90 411.64,254.35 C411.13,254.81 410.62,255.28 410.11,255.78 C409.60,256.28 409.08,256.79 408.57,257.33 C408.06,257.87 407.55,258.43 407.04,259.00 C406.53,259.58 406.02,260.17 405.51,260.78 C404.99,261.39 404.48,262.01 403.97,262.64 C403.46,263.28 402.95,263.93 402.44,264.58 C401.93,265.24 401.42,265.90 400.90,266.57 C400.39,267.24 399.88,267.92 399.37,268.60 C398.86,269.28 398.35,269.97 397.84,270.65 C397.33,271.34 396.81,272.02 396.30,272.71 C395.79,273.39 395.28,274.08 394.77,274.77 C394.26,275.45 393.75,276.14 393.24,276.83 C392.72,277.52 392.21,278.21 391.70,278.91 C391.19,279.60 390.68,280.30 390.17,281.00 C389.66,281.70 389.15,282.40 388.63,283.11 C388.12,283.81 387.61,284.52 387.10,285.24 C386.59,285.95 386.08,286.67 385.57,287.40 C385.06,288.12 384.54,288.85 384.03,289.58 C383.52,290.32 382.76,291.43 382.50,291.80 Z" fill="#d0d0d0" fill-opacity="0.62" stroke="none"/>
<path d="M385.40,288.38 C385.66,288.22 386.42,287.74 386.94,287.42 C387.45,287.10 387.96,286.77 388.47,286.45 C388.98,286.13 389.50,285.80 390.01,285.48 C390.52,285.16 391.03,284.84 391.54,284.52 C392.06,284.20 392.57,283.88 393.08,283.56 C393.59,283.25 394.10,282.93 394.61,282.62 C395.13,282.31 395.64,282.00 396.15,281.70 C396.66,281.40 397.17,281.10 397.69,280.80 C398.20,280.51 398.71,280.22 399.22,279.94 C399.73,279.65 400.25,279.38 400.76,279.10 C401.27,278.83 401.78,278.57 402.29,278.31 C402.81,278.06 403.32,277.81 403.83,277.57 C404.34,277.33 404.85,277.10 405.37,276.87 C405.88,276.65 406.39,276.44 406.90,276.24 C407.41,276.04 407.93,275.84 408.44,275.66 C408.95,275.48 409.46,275.31 409.97,275.15 C410.48,274.99 411.00,274.84 411.51,274.70 C412.02,274.56 412.53,274.43 413.04,274.31 C413.56,274.19 414.07,274.08 414.58,273.98 C415.09,273.89 415.60,273.80 416.12,273.72 C416.63,273.64 417.14,273.58 417.65,273.52 C418.16,273.46 418.68,273.42 419.19,273.38 C419.70,273.34 420.21,273.31 420.72,273.29 C421.24,273.26 421.75,273.25 422.26,273.24 C422.77,273.24 423.28,273.24 423.80,273.25 C424.31,273.25 424.82,273.27 425.33,273.29 C425.84,273.31 426.35,273.33 426.87,273.36 C427.38,273.39 427.89,273.43 428.40,273.47 C428.91,273.51 429.43,273.55 429.94,273.60 C430.45,273.65 430.96,273.70 431.47,273.75 C431.99,273.81 432.50,273.86 433.01,273.92 C433.52,273.98 434.03,274.04 434.55,274.10 C435.06,274.16 435.57,274.22 436.08,274.29 C436.59,274.35 437.11,274.41 437.62,274.48 C438.13,274.54 438.64,274.60 439.15,274.66 C439.67,274.72 440.18,274.79 440.69,274.84 C441.20,274.90 441.71,274.96 442.22,275.01 C442.74,275.07 443.25,275.12 443.76,275.18 C444.27,275.23 444.78,275.28 445.30,275.33 C445.81,275.38 446.32,275.43 446.83,275.47 C447.34,275.52 447.86,275.56 448.37,275.61 C448.88,275.65 449.39,275.69 449.90,275.73 C450.42,275.77 450.93,275.81 451.44,275.84 C451.95,275.88 452.46,275.91 452.98,275.95 C453.49,275.98 454.00,276.01 454.51,276.04 C455.02,276.07 455.53,276.10 456.05,276.13 C456.56,276.15 457.07,276.18 457.58,276.20 C458.09,276.22 458.61,276.25 459.12,276.26 C459.63,276.28 460.14,276.30 460.65,276.32 C461.17,276.34 461.68,276.35 462.19,276.36 C462.70,276.38 463.21,276.39 463.73,276.40 C464.24,276.41 464.75,276.42 465.26,276.42 C465.77,276.43 466.29,276.43 466.80,276.43 C467.31,276.44 467.82,276.44 468.33,276.44 C468.85,276.44 469.36,276.43 469.87,276.43 C470.38,276.43 470.89,276.42 471.40,276.41 C471.92,276.40 472.43,276.40 472.94,276.38 C473.45,276.37 473.96,276.36 474.48,276.34 C474.99,276.33 475.50,276.31 476.01,276.29 C476.52,276.28 477.04,276.26 477.55,276.23 C478.06,276.21 478.57,276.19 479.08,276.16 C479.60,276.14 480.11,276.11 480.62,276.08 C481.13,276.05 481.64,276.02 482.16,275.99 C482.67,275.95 483.18,275.92 483.69,275.88 C484.20,275.85 484.72,275.81 485.23,275.77 C485.74,275.73 486.25,275.69 486.76,275.66 C487.27,275.62 487.79,275.58 488.30,275.54 C488.81,275.50 489.32,275.46 489.83,275.42 C490.35,275.38 490.86,275.34 491.37,275.30 C491.88,275.27 492.39,275.23 492.91,275.19 C493.42,275.16 493.93,275.12 494.44,275.09 C494.95,275.06 495.47,275.03 495.98,275.00 C496.49,274.97 497.00,274.95 497.51,274.92 C498.03,274.90 498.54,274.88 499.05,274.86 C499.56,274.84 500.07,274.83 500.59,274.82 C501.10,274.81 501.61,274.80 502.12,274.80 C502.63,274.79 503.14,274.79 503.66,274.80 C504.17,274.80 504.68,274.81 505.19,274.83 C505.70,274.84 506.22,274.86 506.73,274.89 C507.24,274.91 507.75,274.94 508.26,274.97 C508.78,275.01 509.54,275.08 509.80,275.10 L509.80,287.00 C509.54,286.97 508.78,286.88 508.26,286.83 C507.75,286.77 507.24,286.72 506.73,286.68 C506.22,286.63 505.70,286.59 505.19,286.55 C504.68,286.51 504.17,286.47 503.66,286.44 C503.14,286.41 502.63,286.38 502.12,286.35 C501.61,286.33 501.10,286.30 500.59,286.28 C500.07,286.26 499.56,286.24 499.05,286.22 C498.54,286.21 498.03,286.20 497.51,286.18 C497.00,286.17 496.49,286.16 495.98,286.16 C495.47,286.15 494.95,286.14 494.44,286.14 C493.93,286.14 493.42,286.13 492.91,286.13 C492.39,286.13 491.88,286.14 491.37,286.14 C490.86,286.14 490.35,286.15 489.83,286.15 C489.32,286.16 488.81,286.16 488.30,286.17 C487.79,286.18 487.27,286.18 486.76,286.19 C486.25,286.20 485.74,286.21 485.23,286.22 C484.72,286.23 484.20,286.24 483.69,286.25 C483.18,286.26 482.67,286.27 482.16,286.28 C481.64,286.29 481.13,286.30 480.62,286.31 C480.11,286.32 479.60,286.33 479.08,286.34 C478.57,286.35 478.06,286.36 477.55,286.36 C477.04,286.37 476.52,286.38 476.01,286.39 C475.50,286.39 474.99,286.40 474.48,286.40 C473.96,286.41 473.45,286.41 472.94,286.41 C472.43,286.41 471.92,286.41 471.40,286.41 C470.89,286.41 470.38,286.41 469.87,286.40 C469.36,286.40 468.85,286.39 468.33,286.38 C467.82,286.37 467.31,286.36 466.80,286.35 C466.29,286.33 465.77,286.32 465.26,286.30 C464.75,286.28 464.24,286.26 463.73,286.24 C463.21,286.22 462.70,286.20 462.19,286.17 C461.68,286.14 461.17,286.11 460.65,286.08 C460.14,286.05 459.63,286.02 459.12,285.98 C458.61,285.95 458.09,285.91 457.58,285.87 C457.07,285.83 456.56,285.79 456.05,285.75 C455.53,285.70 455.02,285.66 454.51,285.61 C454.00,285.56 453.49,285.51 452.98,285.46 C452.46,285.40 451.95,285.35 451.44,285.29 C450.93,285.24 450.42,285.18 449.90,285.12 C449.39,285.06 448.88,285.00 448.37,284.93 C447.86,284.87 447.34,284.81 446.83,284.74 C446.32,284.67 445.81,284.61 445.30,284.54 C444.78,284.47 444.27,284.40 443.76,284.34 C443.25,284.27 442.74,284.20 442.22,284.13 C441.71,284.06 441.20,283.99 440.69,283.91 C440.18,283.84 439.67,283.77 439.15,283.70 C438.64,283.63 438.13,283.56 437.62,283.49 C437.11,283.42 436.59,283.35 436.08,283.28 C435.57,283.21 435.06,283.14 434.55,283.07 C434.03,283.01 433.52,282.94 433.01,282.87 C432.50,282.81 431.99,282.74 431.47,282.68 C430.96,282.62 430.45,282.55 429.94,282.50 C429.43,282.44 428.91,282.38 428.40,282.33 C427.89,282.27 427.38,282.22 426.87,282.17 C426.35,282.12 425.84,282.08 425.33,282.04 C424.82,282.00 424.31,281.96 423.80,281.93 C423.28,281.89 422.77,281.86 422.26,281.84 C421.75,281.82 421.24,281.80 420.72,281.80 C420.21,281.79 419.70,281.79 419.19,281.80 C418.68,281.81 418.16,281.83 417.65,281.87 C417.14,281.91 416.63,281.95 416.12,282.02 C415.60,282.08 415.09,282.15 414.58,282.25 C414.07,282.34 413.56,282.44 413.04,282.56 C412.53,282.68 412.02,282.81 411.51,282.95 C411.00,283.09 410.48,283.24 409.97,283.41 C409.46,283.57 408.95,283.74 408.44,283.93 C407.93,284.11 407.41,284.30 406.90,284.50 C406.39,284.70 405.88,284.91 405.37,285.13 C404.85,285.34 404.34,285.57 403.83,285.79 C403.32,286.02 402.81,286.26 402.29,286.50 C401.78,286.74 401.27,286.98 400.76,287.23 C400.25,287.48 399.73,287.73 399.22,287.98 C398.71,288.24 398.20,288.49 397.69,288.75 C397.17,289.01 396.66,289.27 396.15,289.53 C395.64,289.79 395.13,290.05 394.61,290.31 C394.10,290.57 393.59,290.83 393.08,291.09 C392.57,291.34 392.06,291.60 391.54,291.85 C391.03,292.10 390.52,292.35 390.01,292.59 C389.50,292.84 388.98,293.08 388.47,293.31 C387.96,293.55 387.45,293.78 386.94,294.00 C386.42,294.23 385.66,294.54 385.40,294.65 Z" fill="#d0d0d0" fill-opacity="0.6" stroke="none"/>
<path d="M79.30,270.77 C79.55,270.60 80.32,270.10 80.82,269.76 C81.33,269.42 81.84,269.08 82.35,268.74 C82.86,268.39 83.37,268.04 83.87,267.69 C84.38,267.34 84.89,266.99 85.40,266.64 C85.91,266.29 86.42,265.93 86.92,265.57 C87.43,265.22 87.94,264.86 88.45,264.50 C88.96,264.14 89.46,263.78 89.97,263.41 C90.48,263.05 90.99,262.69 91.50,262.32 C92.01,261.96 92.51,261.59 93.02,261.23 C93.53,260.86 94.04,260.50 94.55,260.13 C95.06,259.76 95.56,259.40 96.07,259.03 C96.58,258.66 97.09,258.30 97.60,257.93 C98.10,257.57 98.61,257.20 99.12,256.83 C99.63,256.47 100.14,256.10 100.65,255.74 C101.15,255.38 101.66,255.01 102.17,254.65 C102.68,254.29 103.19,253.93 103.70,253.57 C104.20,253.21 104.71,252.85 105.22,252.50 C105.73,252.14 106.24,251.79 106.74,251.44 C107.25,251.08 107.76,250.73 108.27,250.39 C108.78,250.04 109.29,249.69 109.79,249.35 C110.30,249.01 110.81,248.67 111.32,248.33 C111.83,247.99 112.33,247.66 112.84,247.33 C113.35,246.99 113.86,246.67 114.37,246.34 C114.88,246.02 115.38,245.69 115.89,245.38 C116.40,245.06 116.91,244.74 117.42,244.43 C117.93,244.12 118.43,243.82 118.94,243.51 C119.45,243.21 119.96,242.91 120.47,242.62 C120.97,242.33 121.48,242.04 121.99,241.75 C122.50,241.47 123.01,241.19 123.52,240.92 C124.02,240.64 124.53,240.37 125.04,240.11 C125.55,239.85 126.06,239.59 126.57,239.33 C127.07,239.08 127.58,238.83 128.09,238.59 C128.60,238.35 129.11,238.11 129.61,237.88 C130.12,237.64 130.63,237.42 131.14,237.19 C131.65,236.97 132.16,236.75 132.66,236.54 C133.17,236.33 133.68,236.12 134.19,235.92 C134.70,235.71 135.21,235.51 135.71,235.32 C136.22,235.13 136.73,234.94 137.24,234.75 C137.75,234.57 138.25,234.38 138.76,234.21 C139.27,234.03 139.78,233.86 140.29,233.69 C140.80,233.52 141.30,233.36 141.81,233.20 C142.32,233.04 142.83,232.89 143.34,232.74 C143.85,232.58 144.35,232.44 144.86,232.29 C145.37,232.15 145.88,232.01 146.39,231.87 C146.89,231.74 147.40,231.61 147.91,231.48 C148.42,231.35 148.93,231.23 149.44,231.11 C149.94,230.98 150.45,230.87 150.96,230.75 C151.47,230.64 151.98,230.53 152.49,230.42 C152.99,230.32 153.50,230.21 154.01,230.11 C154.52,230.01 155.03,229.91 155.53,229.82 C156.04,229.73 156.55,229.63 157.06,229.55 C157.57,229.46 158.08,229.37 158.58,229.29 C159.09,229.21 159.60,229.13 160.11,229.05 C160.62,228.98 161.13,228.90 161.63,228.83 C162.14,228.76 162.65,228.70 163.16,228.63 C163.67,228.56 164.17,228.50 164.68,228.44 C165.19,228.38 165.70,228.32 166.21,228.27 C166.72,228.21 167.22,228.16 167.73,228.11 C168.24,228.06 168.75,228.01 169.26,227.96 C169.77,227.91 170.27,227.87 170.78,227.83 C171.29,227.78 171.80,227.74 172.31,227.71 C172.81,227.67 173.32,227.63 173.83,227.60 C174.34,227.56 174.85,227.53 175.36,227.50 C175.86,227.46 176.37,227.43 176.88,227.41 C177.39,227.38 177.90,227.35 178.40,227.33 C178.91,227.30 179.42,227.28 179.93,227.26 C180.44,227.23 180.95,227.21 181.45,227.19 C181.96,227.17 182.47,227.16 182.98,227.14 C183.49,227.12 184.00,227.11 184.50,227.09 C185.01,227.07 185.52,227.06 186.03,227.05 C186.54,227.03 187.04,227.02 187.55,227.01 C188.06,227.00 188.57,226.99 189.08,226.98 C189.59,226.97 190.09,226.96 190.60,226.95 C191.11,226.94 191.62,226.93 192.13,226.93 C192.64,226.92 193.14,226.91 193.65,226.91 C194.16,226.90 194.67,226.89 195.18,226.89 C195.68,226.88 196.19,226.87 196.70,226.87 C197.21,226.86 197.72,226.86 198.23,226.85 C198.73,226.85 199.24,226.84 199.75,226.84 C200.26,226.83 200.77,226.82 201.28,226.82 C201.78,226.81 202.55,226.80 202.80,226.80" fill="none" stroke="#f6cfda" stroke-opacity="0.7" stroke-width="4" stroke-linecap="butt"/>
<path d="M76.00,260.59 C76.25,260.18 77.02,258.98 77.53,258.15 C78.04,257.33 78.55,256.49 79.06,255.64 C79.56,254.80 80.07,253.94 80.58,253.08 C81.09,252.21 81.60,251.34 82.11,250.46 C82.62,249.59 83.13,248.70 83.64,247.81 C84.15,246.92 84.66,246.03 85.17,245.13 C85.68,244.24 86.18,243.33 86.69,242.43 C87.20,241.53 87.71,240.63 88.22,239.73 C88.73,238.82 89.24,237.92 89.75,237.02 C90.26,236.12 90.77,235.22 91.28,234.33 C91.79,233.43 92.30,232.54 92.80,231.66 C93.31,230.77 93.82,229.89 94.33,229.03 C94.84,228.16 95.35,227.30 95.86,226.45 C96.37,225.61 96.88,224.77 97.39,223.96 C97.90,223.14 98.41,222.34 98.92,221.55 C99.42,220.77 99.93,220.01 100.44,219.26 C100.95,218.52 101.46,217.80 101.97,217.11 C102.48,216.41 102.99,215.74 103.50,215.10 C104.01,214.45 104.52,213.84 105.03,213.25 C105.54,212.66 106.04,212.10 106.55,211.57 C107.06,211.03 107.57,210.52 108.08,210.04 C108.59,209.55 109.10,209.09 109.61,208.66 C110.12,208.22 110.63,207.81 111.14,207.42 C111.65,207.03 112.16,206.66 112.67,206.32 C113.17,205.97 113.68,205.65 114.19,205.34 C114.70,205.04 115.21,204.76 115.72,204.49 C116.23,204.23 116.74,203.98 117.25,203.76 C117.76,203.53 118.27,203.32 118.78,203.13 C119.29,202.94 119.79,202.77 120.30,202.62 C120.81,202.46 121.32,202.33 121.83,202.21 C122.34,202.09 122.85,201.98 123.36,201.89 C123.87,201.80 124.38,201.73 124.89,201.67 C125.40,201.61 125.91,201.57 126.41,201.54 C126.92,201.51 127.43,201.50 127.94,201.50 C128.45,201.49 128.96,201.51 129.47,201.53 C129.98,201.55 130.49,201.59 131.00,201.64 C131.51,201.69 132.02,201.75 132.53,201.82 C133.03,201.89 133.54,201.97 134.05,202.06 C134.56,202.15 135.07,202.25 135.58,202.35 C136.09,202.45 136.60,202.55 137.11,202.66 C137.62,202.77 138.13,202.88 138.64,202.98 C139.15,203.09 139.65,203.19 140.16,203.29 C140.67,203.39 141.18,203.49 141.69,203.58 C142.20,203.66 142.71,203.75 143.22,203.82 C143.73,203.89 144.24,203.95 144.75,203.99 C145.26,204.04 145.77,204.07 146.27,204.09 C146.78,204.11 147.29,204.11 147.80,204.09 C148.31,204.08 148.82,204.04 149.33,204.00 C149.84,203.95 150.35,203.89 150.86,203.82 C151.37,203.75 151.88,203.67 152.39,203.57 C152.89,203.47 153.40,203.37 153.91,203.25 C154.42,203.13 154.93,203.00 155.44,202.87 C155.95,202.73 156.46,202.59 156.97,202.43 C157.48,202.28 157.99,202.12 158.50,201.96 C159.01,201.79 159.51,201.62 160.02,201.44 C160.53,201.27 161.04,201.08 161.55,200.90 C162.06,200.71 162.57,200.53 163.08,200.34 C163.59,200.15 164.10,199.95 164.61,199.76 C165.12,199.57 165.63,199.37 166.13,199.18 C166.64,198.99 167.15,198.80 167.66,198.60 C168.17,198.41 168.68,198.22 169.19,198.02 C169.70,197.83 170.21,197.64 170.72,197.45 C171.23,197.26 171.74,197.06 172.25,196.87 C172.76,196.68 173.26,196.49 173.77,196.30 C174.28,196.11 174.79,195.92 175.30,195.73 C175.81,195.54 176.32,195.35 176.83,195.16 C177.34,194.97 177.85,194.79 178.36,194.60 C178.87,194.41 179.38,194.23 179.88,194.04 C180.39,193.86 180.90,193.67 181.41,193.49 C181.92,193.30 182.43,193.12 182.94,192.94 C183.45,192.76 183.96,192.57 184.47,192.39 C184.98,192.21 185.49,192.03 186.00,191.86 C186.50,191.68 187.01,191.50 187.52,191.33 C188.03,191.15 188.54,190.98 189.05,190.80 C189.56,190.63 190.07,190.46 190.58,190.29 C191.09,190.12 191.60,189.95 192.11,189.78 C192.62,189.61 193.12,189.44 193.63,189.28 C194.14,189.11 194.65,188.95 195.16,188.79 C195.67,188.63 196.18,188.47 196.69,188.31 C197.20,188.15 197.71,187.99 198.22,187.84 C198.73,187.68 199.24,187.53 199.74,187.38 C200.25,187.23 200.76,187.08 201.27,186.93 C201.78,186.78 202.55,186.56 202.80,186.49" fill="none" stroke="#cfeed6" stroke-opacity="0.7" stroke-width="4" stroke-linecap="butt"/>
<path d="M79.30,250.17 C79.55,249.49 80.32,247.47 80.82,246.12 C81.33,244.78 81.84,243.43 82.35,242.10 C82.86,240.76 83.37,239.43 83.87,238.10 C84.38,236.77 84.89,235.45 85.40,234.13 C85.91,232.82 86.42,231.51 86.92,230.21 C87.43,228.91 87.94,227.61 88.45,226.33 C88.96,225.04 89.46,223.76 89.97,222.49 C90.48,221.23 90.99,219.97 91.50,218.72 C92.01,217.47 92.51,216.23 93.02,215.00 C93.53,213.78 94.04,212.56 94.55,211.36 C95.06,210.15 95.56,208.96 96.07,207.78 C96.58,206.60 97.09,205.44 97.60,204.29 C98.10,203.14 98.61,202.00 99.12,200.87 C99.63,199.75 100.14,198.64 100.65,197.54 C101.15,196.45 101.66,195.36 102.17,194.30 C102.68,193.23 103.19,192.18 103.70,191.14 C104.20,190.11 104.71,189.09 105.22,188.08 C105.73,187.08 106.24,186.09 106.74,185.11 C107.25,184.14 107.76,183.19 108.27,182.25 C108.78,181.31 109.29,180.39 109.79,179.48 C110.30,178.58 110.81,177.69 111.32,176.82 C111.83,175.95 112.33,175.10 112.84,174.27 C113.35,173.43 113.86,172.62 114.37,171.82 C114.88,171.02 115.38,170.23 115.89,169.46 C116.40,168.69 116.91,167.94 117.42,167.20 C117.93,166.46 118.43,165.74 118.94,165.02 C119.45,164.31 119.96,163.62 120.47,162.93 C120.97,162.25 121.48,161.58 121.99,160.92 C122.50,160.26 123.01,159.61 123.52,158.97 C124.02,158.34 124.53,157.71 125.04,157.10 C125.55,156.48 126.06,155.88 126.57,155.28 C127.07,154.69 127.58,154.10 128.09,153.52 C128.60,152.95 129.11,152.38 129.61,151.82 C130.12,151.26 130.63,150.70 131.14,150.16 C131.65,149.61 132.16,149.07 132.66,148.55 C133.17,148.02 133.68,147.50 134.19,146.99 C134.70,146.49 135.21,145.99 135.71,145.51 C136.22,145.03 136.73,144.56 137.24,144.11 C137.75,143.66 138.25,143.22 138.76,142.81 C139.27,142.39 139.78,141.99 140.29,141.61 C140.80,141.23 141.30,140.87 141.81,140.54 C142.32,140.20 142.83,139.89 143.34,139.60 C143.85,139.31 144.35,139.04 144.86,138.78 C145.37,138.53 145.88,138.30 146.39,138.08 C146.89,137.87 147.40,137.67 147.91,137.48 C148.42,137.29 148.93,137.12 149.44,136.96 C149.94,136.80 150.45,136.65 150.96,136.50 C151.47,136.36 151.98,136.23 152.49,136.10 C152.99,135.97 153.50,135.84 154.01,135.72 C154.52,135.60 155.03,135.48 155.53,135.37 C156.04,135.26 156.55,135.15 157.06,135.06 C157.57,134.96 158.08,134.86 158.58,134.78 C159.09,134.70 159.60,134.62 160.11,134.56 C160.62,134.50 161.13,134.45 161.63,134.41 C162.14,134.37 162.65,134.35 163.16,134.34 C163.67,134.33 164.17,134.33 164.68,134.36 C165.19,134.38 165.70,134.42 166.21,134.48 C166.72,134.54 167.22,134.61 167.73,134.71 C168.24,134.81 168.75,134.93 169.26,135.08 C169.77,135.22 170.27,135.39 170.78,135.58 C171.29,135.77 171.80,135.98 172.31,136.22 C172.81,136.45 173.32,136.71 173.83,136.98 C174.34,137.25 174.85,137.54 175.36,137.84 C175.86,138.13 176.37,138.45 176.88,138.77 C177.39,139.09 177.90,139.42 178.40,139.76 C178.91,140.09 179.42,140.44 179.93,140.78 C180.44,141.12 180.95,141.47 181.45,141.81 C181.96,142.16 182.47,142.50 182.98,142.84 C183.49,143.18 184.00,143.52 184.50,143.85 C185.01,144.18 185.52,144.51 186.03,144.83 C186.54,145.16 187.04,145.47 187.55,145.78 C188.06,146.09 188.57,146.39 189.08,146.67 C189.59,146.96 190.09,147.24 190.60,147.51 C191.11,147.78 191.62,148.03 192.13,148.28 C192.64,148.52 193.14,148.75 193.65,148.97 C194.16,149.19 194.67,149.40 195.18,149.61 C195.68,149.82 196.19,150.02 196.70,150.22 C197.21,150.42 197.72,150.62 198.23,150.83 C198.73,151.03 199.24,151.23 199.75,151.44 C200.26,151.66 200.77,151.87 201.28,152.10 C201.78,152.33 202.55,152.70 202.80,152.82" fill="none" stroke="#d2e6f8" stroke-opacity="0.7" stroke-width="4" stroke-linecap="butt"/>
<path d="M232.30,284.01 C232.55,283.93 233.32,283.66 233.83,283.49 C234.34,283.31 234.85,283.14 235.36,282.97 C235.87,282.80 236.38,282.64 236.89,282.47 C237.40,282.31 237.91,282.15 238.42,281.99 C238.93,281.83 239.44,281.68 239.95,281.53 C240.46,281.38 240.97,281.23 241.48,281.09 C241.99,280.95 242.50,280.81 243.01,280.67 C243.52,280.54 244.03,280.41 244.54,280.29 C245.05,280.16 245.56,280.04 246.07,279.93 C246.58,279.81 247.09,279.70 247.60,279.60 C248.11,279.50 248.62,279.40 249.13,279.31 C249.64,279.22 250.15,279.13 250.66,279.05 C251.17,278.97 251.68,278.90 252.19,278.83 C252.70,278.77 253.20,278.71 253.71,278.66 C254.22,278.61 254.73,278.56 255.24,278.52 C255.75,278.49 256.26,278.46 256.77,278.44 C257.28,278.42 257.79,278.40 258.30,278.40 C258.81,278.39 259.32,278.39 259.83,278.40 C260.34,278.41 260.85,278.42 261.36,278.44 C261.87,278.46 262.38,278.49 262.89,278.52 C263.40,278.55 263.91,278.59 264.42,278.64 C264.93,278.68 265.44,278.73 265.95,278.78 C266.46,278.84 266.97,278.90 267.48,278.96 C267.99,279.03 268.50,279.09 269.01,279.17 C269.52,279.24 270.03,279.32 270.54,279.40 C271.05,279.48 271.56,279.56 272.07,279.65 C272.58,279.73 273.09,279.82 273.60,279.92 C274.11,280.01 274.62,280.11 275.13,280.21 C275.64,280.30 276.15,280.40 276.66,280.51 C277.17,280.61 277.68,280.71 278.19,280.82 C278.70,280.93 279.21,281.03 279.72,281.14 C280.23,281.25 280.74,281.36 281.25,281.47 C281.76,281.58 282.27,281.69 282.78,281.80 C283.29,281.91 283.80,282.02 284.31,282.13 C284.82,282.24 285.33,282.35 285.84,282.46 C286.35,282.57 286.86,282.68 287.37,282.79 C287.88,282.89 288.39,283.00 288.90,283.10 C289.41,283.20 289.92,283.30 290.43,283.40 C290.94,283.50 291.45,283.59 291.96,283.68 C292.47,283.77 292.98,283.86 293.49,283.95 C294.00,284.03 294.50,284.11 295.01,284.18 C295.52,284.26 296.03,284.33 296.54,284.40 C297.05,284.46 297.56,284.52 298.07,284.58 C298.58,284.64 299.09,284.69 299.60,284.74 C300.11,284.79 300.62,284.84 301.13,284.88 C301.64,284.92 302.15,284.96 302.66,284.99 C303.17,285.03 303.68,285.06 304.19,285.08 C304.70,285.11 305.21,285.13 305.72,285.15 C306.23,285.17 306.74,285.18 307.25,285.20 C307.76,285.21 308.27,285.22 308.78,285.22 C309.29,285.23 309.80,285.23 310.31,285.23 C310.82,285.23 311.33,285.23 311.84,285.22 C312.35,285.21 312.86,285.20 313.37,285.19 C313.88,285.18 314.39,285.16 314.90,285.14 C315.41,285.12 315.92,285.10 316.43,285.08 C316.94,285.06 317.45,285.03 317.96,285.00 C318.47,284.97 318.98,284.94 319.49,284.91 C320.00,284.88 320.51,284.85 321.02,284.81 C321.53,284.78 322.04,284.74 322.55,284.70 C323.06,284.66 323.57,284.62 324.08,284.58 C324.59,284.54 325.10,284.50 325.61,284.46 C326.12,284.42 326.63,284.38 327.14,284.33 C327.65,284.29 328.16,284.25 328.67,284.21 C329.18,284.16 329.69,284.12 330.20,284.08 C330.71,284.03 331.22,283.99 331.73,283.95 C332.24,283.91 332.75,283.86 333.26,283.82 C333.77,283.78 334.28,283.74 334.79,283.70 C335.30,283.67 335.80,283.63 336.31,283.59 C336.82,283.56 337.33,283.52 337.84,283.49 C338.35,283.45 338.86,283.42 339.37,283.39 C339.88,283.36 340.39,283.34 340.90,283.31 C341.41,283.29 341.92,283.26 342.43,283.24 C342.94,283.22 343.45,283.21 343.96,283.19 C344.47,283.18 344.98,283.17 345.49,283.16 C346.00,283.15 346.51,283.14 347.02,283.14 C347.53,283.14 348.04,283.14 348.55,283.15 C349.06,283.15 349.57,283.16 350.08,283.18 C350.59,283.19 351.10,283.21 351.61,283.23 C352.12,283.25 352.63,283.28 353.14,283.31 C353.65,283.34 354.16,283.37 354.67,283.41 C355.18,283.45 355.95,283.53 356.20,283.55" fill="none" stroke="#f6cfda" stroke-opacity="0.7" stroke-width="4" stroke-linecap="butt"/>
<path d="M232.30,285.81 C232.55,285.79 233.32,285.72 233.83,285.68 C234.34,285.63 234.85,285.58 235.36,285.54 C235.87,285.49 236.38,285.44 236.89,285.39 C237.40,285.34 237.91,285.29 238.42,285.24 C238.93,285.19 239.44,285.13 239.95,285.08 C240.46,285.03 240.97,284.97 241.48,284.92 C241.99,284.86 242.50,284.81 243.01,284.75 C243.52,284.69 244.03,284.64 244.54,284.58 C245.05,284.52 245.56,284.46 246.07,284.40 C246.58,284.34 247.09,284.28 247.60,284.22 C248.11,284.16 248.62,284.10 249.13,284.04 C249.64,283.98 250.15,283.92 250.66,283.85 C251.17,283.79 251.68,283.73 252.19,283.66 C252.70,283.60 253.20,283.53 253.71,283.47 C254.22,283.40 254.73,283.34 255.24,283.27 C255.75,283.21 256.26,283.14 256.77,283.07 C257.28,283.01 257.79,282.94 258.30,282.87 C258.81,282.80 259.32,282.73 259.83,282.67 C260.34,282.60 260.85,282.53 261.36,282.46 C261.87,282.39 262.38,282.32 262.89,282.25 C263.40,282.18 263.91,282.11 264.42,282.04 C264.93,281.97 265.44,281.90 265.95,281.83 C266.46,281.76 266.97,281.69 267.48,281.62 C267.99,281.55 268.50,281.47 269.01,281.40 C269.52,281.33 270.03,281.26 270.54,281.19 C271.05,281.12 271.56,281.04 272.07,280.97 C272.58,280.90 273.09,280.83 273.60,280.76 C274.11,280.68 274.62,280.61 275.13,280.54 C275.64,280.47 276.15,280.40 276.66,280.33 C277.17,280.25 277.68,280.18 278.19,280.11 C278.70,280.04 279.21,279.97 279.72,279.89 C280.23,279.82 280.74,279.75 281.25,279.68 C281.76,279.61 282.27,279.54 282.78,279.47 C283.29,279.40 283.80,279.32 284.31,279.25 C284.82,279.18 285.33,279.11 285.84,279.04 C286.35,278.97 286.86,278.90 287.37,278.83 C287.88,278.76 288.39,278.69 288.90,278.63 C289.41,278.56 289.92,278.49 290.43,278.42 C290.94,278.35 291.45,278.28 291.96,278.22 C292.47,278.15 292.98,278.08 293.49,278.01 C294.00,277.95 294.50,277.88 295.01,277.82 C295.52,277.75 296.03,277.69 296.54,277.62 C297.05,277.56 297.56,277.49 298.07,277.43 C298.58,277.36 299.09,277.30 299.60,277.24 C300.11,277.18 300.62,277.11 301.13,277.05 C301.64,276.99 302.15,276.93 302.66,276.87 C303.17,276.81 303.68,276.75 304.19,276.69 C304.70,276.63 305.21,276.57 305.72,276.52 C306.23,276.46 306.74,276.40 307.25,276.35 C307.76,276.29 308.27,276.24 308.78,276.18 C309.29,276.13 309.80,276.07 310.31,276.02 C310.82,275.97 311.33,275.92 311.84,275.87 C312.35,275.81 312.86,275.76 313.37,275.72 C313.88,275.67 314.39,275.62 314.90,275.57 C315.41,275.52 315.92,275.48 316.43,275.43 C316.94,275.39 317.45,275.34 317.96,275.30 C318.47,275.25 318.98,275.21 319.49,275.17 C320.00,275.13 320.51,275.09 321.02,275.05 C321.53,275.01 322.04,274.97 322.55,274.93 C323.06,274.90 323.57,274.86 324.08,274.83 C324.59,274.79 325.10,274.76 325.61,274.73 C326.12,274.69 326.63,274.66 327.14,274.63 C327.65,274.60 328.16,274.57 328.67,274.54 C329.18,274.52 329.69,274.49 330.20,274.47 C330.71,274.44 331.22,274.42 331.73,274.39 C332.24,274.37 332.75,274.35 333.26,274.33 C333.77,274.31 334.28,274.29 334.79,274.28 C335.30,274.26 335.80,274.24 336.31,274.23 C336.82,274.22 337.33,274.20 337.84,274.19 C338.35,274.18 338.86,274.17 339.37,274.16 C339.88,274.15 340.39,274.15 340.90,274.14 C341.41,274.14 341.92,274.13 342.43,274.13 C342.94,274.13 343.45,274.13 343.96,274.13 C344.47,274.13 344.98,274.13 345.49,274.14 C346.00,274.14 346.51,274.15 347.02,274.16 C347.53,274.17 348.04,274.17 348.55,274.19 C349.06,274.20 349.57,274.21 350.08,274.22 C350.59,274.24 351.10,274.26 351.61,274.27 C352.12,274.29 352.63,274.31 353.14,274.33 C353.65,274.36 354.16,274.38 354.67,274.41 C355.18,274.43 355.95,274.47 356.20,274.49" fill="none" stroke="#d2e6f8" stroke-opacity="0.7" stroke-width="4" stroke-linecap="butt"/>
<path d="M229.10,293.48 C229.36,293.36 230.12,292.99 230.63,292.74 C231.14,292.50 231.65,292.26 232.16,292.02 C232.67,291.79 233.18,291.55 233.69,291.32 C234.20,291.09 234.71,290.86 235.23,290.63 C235.74,290.41 236.25,290.19 236.76,289.97 C237.27,289.75 237.78,289.53 238.29,289.31 C238.80,289.10 239.31,288.89 239.82,288.68 C240.33,288.47 240.84,288.27 241.35,288.06 C241.86,287.86 242.37,287.66 242.88,287.47 C243.39,287.27 243.90,287.08 244.41,286.89 C244.92,286.70 245.43,286.51 245.94,286.33 C246.46,286.15 246.97,285.97 247.48,285.79 C247.99,285.61 248.50,285.44 249.01,285.27 C249.52,285.10 250.03,284.94 250.54,284.77 C251.05,284.61 251.56,284.45 252.07,284.29 C252.58,284.14 253.09,283.99 253.60,283.84 C254.11,283.69 254.62,283.54 255.13,283.40 C255.64,283.26 256.15,283.12 256.66,282.99 C257.17,282.86 257.68,282.72 258.20,282.60 C258.71,282.47 259.22,282.35 259.73,282.23 C260.24,282.11 260.75,282.00 261.26,281.89 C261.77,281.77 262.28,281.67 262.79,281.56 C263.30,281.46 263.81,281.36 264.32,281.27 C264.83,281.17 265.34,281.08 265.85,280.99 C266.36,280.91 266.87,280.82 267.38,280.74 C267.89,280.67 268.40,280.59 268.91,280.52 C269.42,280.45 269.94,280.38 270.45,280.32 C270.96,280.26 271.47,280.20 271.98,280.15 C272.49,280.10 273.00,280.05 273.51,280.00 C274.02,279.96 274.53,279.92 275.04,279.88 C275.55,279.85 276.06,279.82 276.57,279.79 C277.08,279.76 277.59,279.74 278.10,279.73 C278.61,279.71 279.12,279.70 279.63,279.69 C280.14,279.69 280.65,279.69 281.17,279.69 C281.68,279.70 282.19,279.71 282.70,279.73 C283.21,279.74 283.72,279.77 284.23,279.80 C284.74,279.83 285.25,279.86 285.76,279.91 C286.27,279.95 286.78,280.00 287.29,280.06 C287.80,280.12 288.31,280.18 288.82,280.26 C289.33,280.33 289.84,280.41 290.35,280.49 C290.86,280.57 291.37,280.66 291.88,280.75 C292.39,280.84 292.91,280.93 293.42,281.03 C293.93,281.12 294.44,281.22 294.95,281.31 C295.46,281.40 295.97,281.49 296.48,281.58 C296.99,281.66 297.50,281.75 298.01,281.83 C298.52,281.91 299.03,281.98 299.54,282.05 C300.05,282.11 300.56,282.17 301.07,282.22 C301.58,282.27 302.09,282.31 302.60,282.34 C303.11,282.37 303.62,282.39 304.13,282.40 C304.65,282.42 305.16,282.42 305.67,282.42 C306.18,282.42 306.69,282.41 307.20,282.39 C307.71,282.38 308.22,282.35 308.73,282.33 C309.24,282.30 309.75,282.27 310.26,282.23 C310.77,282.20 311.28,282.16 311.79,282.12 C312.30,282.07 312.81,282.03 313.32,281.98 C313.83,281.94 314.34,281.89 314.85,281.84 C315.36,281.79 315.88,281.74 316.39,281.68 C316.90,281.63 317.41,281.58 317.92,281.53 C318.43,281.48 318.94,281.43 319.45,281.37 C319.96,281.32 320.47,281.27 320.98,281.22 C321.49,281.16 322.00,281.11 322.51,281.06 C323.02,281.01 323.53,280.96 324.04,280.91 C324.55,280.86 325.06,280.81 325.57,280.76 C326.08,280.71 326.59,280.66 327.10,280.62 C327.62,280.57 328.13,280.52 328.64,280.48 C329.15,280.44 329.66,280.40 330.17,280.35 C330.68,280.31 331.19,280.27 331.70,280.24 C332.21,280.20 332.72,280.16 333.23,280.12 C333.74,280.09 334.25,280.05 334.76,280.02 C335.27,279.99 335.78,279.95 336.29,279.92 C336.80,279.89 337.31,279.86 337.82,279.83 C338.33,279.80 338.84,279.77 339.36,279.75 C339.87,279.72 340.38,279.69 340.89,279.66 C341.40,279.64 341.91,279.61 342.42,279.59 C342.93,279.56 343.44,279.54 343.95,279.51 C344.46,279.49 344.97,279.47 345.48,279.44 C345.99,279.42 346.50,279.40 347.01,279.38 C347.52,279.36 348.03,279.33 348.54,279.31 C349.05,279.29 349.56,279.27 350.07,279.25 C350.59,279.23 351.10,279.21 351.61,279.19 C352.12,279.17 352.63,279.14 353.14,279.12 C353.65,279.10 354.16,279.08 354.67,279.06 C355.18,279.04 355.94,279.01 356.20,279.00" fill="none" stroke="#cfeed6" stroke-opacity="0.7" stroke-width="4" stroke-linecap="butt"/>
<path d="M385.40,291.59 C385.66,291.41 386.42,290.87 386.94,290.52 C387.45,290.17 387.96,289.82 388.47,289.48 C388.98,289.13 389.50,288.80 390.01,288.46 C390.52,288.13 391.03,287.81 391.54,287.49 C392.06,287.16 392.57,286.85 393.08,286.54 C393.59,286.23 394.10,285.93 394.61,285.63 C395.13,285.34 395.64,285.05 396.15,284.77 C396.66,284.48 397.17,284.21 397.69,283.94 C398.20,283.67 398.71,283.41 399.22,283.16 C399.73,282.90 400.25,282.65 400.76,282.42 C401.27,282.18 401.78,281.95 402.29,281.72 C402.81,281.50 403.32,281.29 403.83,281.08 C404.34,280.87 404.85,280.68 405.37,280.49 C405.88,280.30 406.39,280.12 406.90,279.95 C407.41,279.78 407.93,279.61 408.44,279.46 C408.95,279.31 409.46,279.16 409.97,279.03 C410.48,278.90 411.00,278.77 411.51,278.66 C412.02,278.55 412.53,278.44 413.04,278.35 C413.56,278.25 414.07,278.17 414.58,278.09 C415.09,278.02 415.60,277.95 416.12,277.89 C416.63,277.83 417.14,277.78 417.65,277.74 C418.16,277.70 418.68,277.66 419.19,277.64 C419.70,277.61 420.21,277.59 420.72,277.58 C421.24,277.57 421.75,277.56 422.26,277.56 C422.77,277.56 423.28,277.57 423.80,277.59 C424.31,277.60 424.82,277.62 425.33,277.65 C425.84,277.68 426.35,277.71 426.87,277.75 C427.38,277.79 427.89,277.83 428.40,277.88 C428.91,277.93 429.43,277.98 429.94,278.04 C430.45,278.10 430.96,278.16 431.47,278.22 C431.99,278.29 432.50,278.36 433.01,278.43 C433.52,278.51 434.03,278.59 434.55,278.67 C435.06,278.75 435.57,278.83 436.08,278.92 C436.59,279.00 437.11,279.09 437.62,279.18 C438.13,279.27 438.64,279.36 439.15,279.46 C439.67,279.55 440.18,279.64 440.69,279.74 C441.20,279.83 441.71,279.93 442.22,280.03 C442.74,280.12 443.25,280.22 443.76,280.31 C444.27,280.41 444.78,280.50 445.30,280.60 C445.81,280.69 446.32,280.78 446.83,280.87 C447.34,280.96 447.86,281.05 448.37,281.14 C448.88,281.22 449.39,281.31 449.90,281.39 C450.42,281.47 450.93,281.55 451.44,281.62 C451.95,281.69 452.46,281.76 452.98,281.83 C453.49,281.90 454.00,281.96 454.51,282.01 C455.02,282.07 455.53,282.12 456.05,282.17 C456.56,282.22 457.07,282.26 457.58,282.30 C458.09,282.34 458.61,282.38 459.12,282.41 C459.63,282.44 460.14,282.47 460.65,282.49 C461.17,282.51 461.68,282.53 462.19,282.55 C462.70,282.57 463.21,282.58 463.73,282.59 C464.24,282.60 464.75,282.60 465.26,282.60 C465.77,282.61 466.29,282.61 466.80,282.60 C467.31,282.60 467.82,282.59 468.33,282.58 C468.85,282.57 469.36,282.56 469.87,282.54 C470.38,282.53 470.89,282.51 471.40,282.49 C471.92,282.47 472.43,282.45 472.94,282.43 C473.45,282.40 473.96,282.38 474.48,282.35 C474.99,282.32 475.50,282.29 476.01,282.26 C476.52,282.23 477.04,282.20 477.55,282.16 C478.06,282.13 478.57,282.10 479.08,282.06 C479.60,282.03 480.11,281.99 480.62,281.95 C481.13,281.92 481.64,281.88 482.16,281.84 C482.67,281.81 483.18,281.77 483.69,281.73 C484.20,281.70 484.72,281.66 485.23,281.62 C485.74,281.58 486.25,281.55 486.76,281.51 C487.27,281.47 487.79,281.44 488.30,281.40 C488.81,281.37 489.32,281.34 489.83,281.30 C490.35,281.27 490.86,281.24 491.37,281.21 C491.88,281.18 492.39,281.15 492.91,281.12 C493.42,281.10 493.93,281.07 494.44,281.05 C494.95,281.02 495.47,281.00 495.98,280.98 C496.49,280.96 497.00,280.95 497.51,280.93 C498.03,280.92 498.54,280.91 499.05,280.90 C499.56,280.89 500.07,280.88 500.59,280.88 C501.10,280.88 501.61,280.88 502.12,280.88 C502.63,280.88 503.14,280.89 503.66,280.90 C504.17,280.91 504.68,280.93 505.19,280.94 C505.70,280.96 506.22,280.98 506.73,281.01 C507.24,281.04 507.75,281.07 508.26,281.10 C508.78,281.14 509.54,281.20 509.80,281.22" fill="none" stroke="#f6cfda" stroke-opacity="0.7" stroke-width="4" stroke-linecap="butt"/>
<path d="M386.20,272.96 C386.45,272.67 387.22,271.82 387.73,271.24 C388.23,270.67 388.74,270.10 389.25,269.52 C389.76,268.95 390.27,268.37 390.78,267.79 C391.29,267.22 391.80,266.64 392.30,266.06 C392.81,265.49 393.32,264.91 393.83,264.34 C394.34,263.76 394.85,263.19 395.36,262.62 C395.86,262.05 396.37,261.48 396.88,260.91 C397.39,260.34 397.90,259.78 398.41,259.22 C398.92,258.66 399.42,258.10 399.93,257.55 C400.44,257.00 400.95,256.45 401.46,255.90 C401.97,255.36 402.48,254.82 402.99,254.28 C403.49,253.75 404.00,253.22 404.51,252.70 C405.02,252.18 405.53,251.66 406.04,251.16 C406.55,250.65 407.05,250.14 407.56,249.65 C408.07,249.16 408.58,248.67 409.09,248.19 C409.60,247.72 410.11,247.25 410.61,246.79 C411.12,246.33 411.63,245.88 412.14,245.44 C412.65,245.00 413.16,244.56 413.67,244.14 C414.18,243.72 414.68,243.31 415.19,242.92 C415.70,242.52 416.21,242.13 416.72,241.75 C417.23,241.37 417.74,241.01 418.24,240.65 C418.75,240.29 419.26,239.94 419.77,239.60 C420.28,239.26 420.79,238.92 421.30,238.60 C421.80,238.27 422.31,237.95 422.82,237.64 C423.33,237.33 423.84,237.02 424.35,236.72 C424.86,236.42 425.37,236.12 425.87,235.83 C426.38,235.53 426.89,235.25 427.40,234.96 C427.91,234.68 428.42,234.39 428.93,234.11 C429.43,233.83 429.94,233.56 430.45,233.28 C430.96,233.01 431.47,232.73 431.98,232.46 C432.49,232.18 433.00,231.91 433.50,231.64 C434.01,231.36 434.52,231.09 435.03,230.82 C435.54,230.55 436.05,230.28 436.56,230.01 C437.06,229.74 437.57,229.48 438.08,229.22 C438.59,228.95 439.10,228.69 439.61,228.43 C440.12,228.17 440.62,227.92 441.13,227.67 C441.64,227.42 442.15,227.17 442.66,226.92 C443.17,226.68 443.68,226.44 444.19,226.20 C444.69,225.97 445.20,225.73 445.71,225.51 C446.22,225.28 446.73,225.06 447.24,224.84 C447.75,224.63 448.25,224.42 448.76,224.21 C449.27,224.01 449.78,223.81 450.29,223.61 C450.80,223.42 451.31,223.23 451.81,223.05 C452.32,222.86 452.83,222.68 453.34,222.51 C453.85,222.34 454.36,222.17 454.87,222.01 C455.38,221.84 455.88,221.68 456.39,221.53 C456.90,221.38 457.41,221.23 457.92,221.09 C458.43,220.94 458.94,220.81 459.44,220.67 C459.95,220.54 460.46,220.41 460.97,220.29 C461.48,220.16 461.99,220.05 462.50,219.93 C463.00,219.82 463.51,219.71 464.02,219.60 C464.53,219.50 465.04,219.40 465.55,219.31 C466.06,219.21 466.57,219.12 467.07,219.03 C467.58,218.95 468.09,218.87 468.60,218.79 C469.11,218.71 469.62,218.64 470.13,218.57 C470.63,218.50 471.14,218.44 471.65,218.38 C472.16,218.32 472.67,218.27 473.18,218.22 C473.69,218.17 474.20,218.12 474.70,218.08 C475.21,218.04 475.72,218.00 476.23,217.96 C476.74,217.93 477.25,217.90 477.76,217.88 C478.26,217.85 478.77,217.83 479.28,217.81 C479.79,217.79 480.30,217.78 480.81,217.77 C481.32,217.76 481.82,217.76 482.33,217.76 C482.84,217.75 483.35,217.76 483.86,217.76 C484.37,217.77 484.88,217.78 485.39,217.79 C485.89,217.81 486.40,217.82 486.91,217.84 C487.42,217.87 487.93,217.89 488.44,217.92 C488.95,217.95 489.45,217.98 489.96,218.01 C490.47,218.05 490.98,218.09 491.49,218.13 C492.00,218.17 492.51,218.22 493.01,218.27 C493.52,218.32 494.03,218.37 494.54,218.43 C495.05,218.48 495.56,218.54 496.07,218.61 C496.58,218.67 497.08,218.73 497.59,218.80 C498.10,218.87 498.61,218.95 499.12,219.02 C499.63,219.10 500.14,219.17 500.64,219.26 C501.15,219.34 501.66,219.42 502.17,219.51 C502.68,219.60 503.19,219.69 503.70,219.78 C504.20,219.88 504.71,219.97 505.22,220.07 C505.73,220.17 506.24,220.27 506.75,220.38 C507.26,220.49 507.77,220.59 508.27,220.70 C508.78,220.81 509.55,220.99 509.80,221.04" fill="none" stroke="#d2e6f8" stroke-opacity="0.7" stroke-width="4" stroke-linecap="butt"/>
<path d="M382.50,282.16 C382.76,281.74 383.52,280.45 384.03,279.64 C384.54,278.84 385.06,278.07 385.57,277.32 C386.08,276.57 386.59,275.86 387.10,275.16 C387.61,274.47 388.12,273.80 388.63,273.14 C389.15,272.48 389.66,271.85 390.17,271.22 C390.68,270.60 391.19,269.99 391.70,269.38 C392.21,268.77 392.72,268.18 393.24,267.58 C393.75,266.98 394.26,266.39 394.77,265.80 C395.28,265.20 395.79,264.60 396.30,263.99 C396.81,263.39 397.33,262.77 397.84,262.15 C398.35,261.52 398.86,260.88 399.37,260.24 C399.88,259.60 400.39,258.95 400.90,258.30 C401.42,257.65 401.93,256.99 402.44,256.34 C402.95,255.69 403.46,255.03 403.97,254.38 C404.48,253.74 404.99,253.09 405.51,252.46 C406.02,251.82 406.53,251.19 407.04,250.58 C407.55,249.97 408.06,249.36 408.57,248.77 C409.08,248.19 409.60,247.62 410.11,247.06 C410.62,246.51 411.13,245.98 411.64,245.47 C412.15,244.96 412.66,244.48 413.17,244.02 C413.69,243.56 414.20,243.13 414.71,242.73 C415.22,242.33 415.73,241.96 416.24,241.62 C416.75,241.27 417.26,240.96 417.78,240.68 C418.29,240.40 418.80,240.14 419.31,239.91 C419.82,239.68 420.33,239.48 420.84,239.31 C421.35,239.13 421.87,238.98 422.38,238.85 C422.89,238.72 423.40,238.62 423.91,238.53 C424.42,238.45 424.93,238.39 425.44,238.35 C425.96,238.31 426.47,238.29 426.98,238.30 C427.49,238.30 428.00,238.33 428.51,238.38 C429.02,238.43 429.53,238.51 430.05,238.61 C430.56,238.71 431.07,238.84 431.58,238.98 C432.09,239.12 432.60,239.29 433.11,239.47 C433.62,239.66 434.14,239.86 434.65,240.07 C435.16,240.29 435.67,240.52 436.18,240.76 C436.69,241.00 437.20,241.25 437.71,241.51 C438.23,241.77 438.74,242.03 439.25,242.30 C439.76,242.57 440.27,242.85 440.78,243.13 C441.29,243.40 441.80,243.68 442.32,243.95 C442.83,244.23 443.34,244.50 443.85,244.77 C444.36,245.03 444.87,245.30 445.38,245.55 C445.89,245.80 446.41,246.05 446.92,246.30 C447.43,246.54 447.94,246.77 448.45,247.00 C448.96,247.23 449.47,247.46 449.98,247.68 C450.50,247.90 451.01,248.11 451.52,248.32 C452.03,248.53 452.54,248.73 453.05,248.93 C453.56,249.13 454.07,249.32 454.59,249.51 C455.10,249.70 455.61,249.88 456.12,250.06 C456.63,250.24 457.14,250.42 457.65,250.59 C458.16,250.76 458.68,250.93 459.19,251.09 C459.70,251.25 460.21,251.41 460.72,251.57 C461.23,251.73 461.74,251.88 462.25,252.03 C462.77,252.18 463.28,252.32 463.79,252.47 C464.30,252.61 464.81,252.75 465.32,252.89 C465.83,253.02 466.34,253.16 466.86,253.29 C467.37,253.42 467.88,253.55 468.39,253.68 C468.90,253.81 469.41,253.94 469.92,254.06 C470.43,254.18 470.95,254.31 471.46,254.43 C471.97,254.55 472.48,254.67 472.99,254.78 C473.50,254.90 474.01,255.02 474.52,255.13 C475.04,255.25 475.55,255.36 476.06,255.48 C476.57,255.59 477.08,255.70 477.59,255.81 C478.10,255.93 478.61,256.04 479.13,256.15 C479.64,256.26 480.15,256.37 480.66,256.48 C481.17,256.59 481.68,256.70 482.19,256.80 C482.70,256.91 483.22,257.01 483.73,257.12 C484.24,257.22 484.75,257.32 485.26,257.42 C485.77,257.52 486.28,257.62 486.79,257.72 C487.31,257.81 487.82,257.91 488.33,258.00 C488.84,258.09 489.35,258.18 489.86,258.27 C490.37,258.35 490.88,258.44 491.40,258.52 C491.91,258.60 492.42,258.68 492.93,258.75 C493.44,258.83 493.95,258.90 494.46,258.97 C494.97,259.04 495.49,259.11 496.00,259.17 C496.51,259.23 497.02,259.29 497.53,259.35 C498.04,259.40 498.55,259.45 499.06,259.50 C499.58,259.55 500.09,259.59 500.60,259.63 C501.11,259.67 501.62,259.71 502.13,259.74 C502.64,259.77 503.15,259.79 503.67,259.81 C504.18,259.84 504.69,259.85 505.20,259.86 C505.71,259.88 506.22,259.88 506.73,259.88 C507.24,259.89 507.76,259.88 508.27,259.87 C508.78,259.86 509.54,259.84 509.80,259.83" fill="none" stroke="#cfeed6" stroke-opacity="0.7" stroke-width="4" stroke-linecap="butt"/>
<path d="M79.30,270.77 C79.55,270.60 80.32,270.10 80.82,269.76 C81.33,269.42 81.84,269.08 82.35,268.74 C82.86,268.39 83.37,268.04 83.87,267.69 C84.38,267.34 84.89,266.99 85.40,266.64 C85.91,266.29 86.42,265.93 86.92,265.57 C87.43,265.22 87.94,264.86 88.45,264.50 C88.96,264.14 89.46,263.78 89.97,263.41 C90.48,263.05 90.99,262.69 91.50,262.32 C92.01,261.96 92.51,261.59 93.02,261.23 C93.53,260.86 94.04,260.50 94.55,260.13 C95.06,259.76 95.56,259.40 96.07,259.03 C96.58,258.66 97.09,258.30 97.60,257.93 C98.10,257.57 98.61,257.20 99.12,256.83 C99.63,256.47 100.14,256.10 100.65,255.74 C101.15,255.38 101.66,255.01 102.17,254.65 C102.68,254.29 103.19,253.93 103.70,253.57 C104.20,253.21 104.71,252.85 105.22,252.50 C105.73,252.14 106.24,251.79 106.74,251.44 C107.25,251.08 107.76,250.73 108.27,250.39 C108.78,250.04 109.29,249.69 109.79,249.35 C110.30,249.01 110.81,248.67 111.32,248.33 C111.83,247.99 112.33,247.66 112.84,247.33 C113.35,246.99 113.86,246.67 114.37,246.34 C114.88,246.02 115.38,245.69 115.89,245.38 C116.40,245.06 116.91,244.74 117.42,244.43 C117.93,244.12 118.43,243.82 118.94,243.51 C119.45,243.21 119.96,242.91 120.47,242.62 C120.97,242.33 121.48,242.04 121.99,241.75 C122.50,241.47 123.01,241.19 123.52,240.92 C124.02,240.64 124.53,240.37 125.04,240.11 C125.55,239.85 126.06,239.59 126.57,239.33 C127.07,239.08 127.58,238.83 128.09,238.59 C128.60,238.35 129.11,238.11 129.61,237.88 C130.12,237.64 130.63,237.42 131.14,237.19 C131.65,236.97 132.16,236.75 132.66,236.54 C133.17,236.33 133.68,236.12 134.19,235.92 C134.70,235.71 135.21,235.51 135.71,235.32 C136.22,235.13 136.73,234.94 137.24,234.75 C137.75,234.57 138.25,234.38 138.76,234.21 C139.27,234.03 139.78,233.86 140.29,233.69 C140.80,233.52 141.30,233.36 141.81,233.20 C142.32,233.04 142.83,232.89 143.34,232.74 C143.85,232.58 144.35,232.44 144.86,232.29 C145.37,232.15 145.88,232.01 146.39,231.87 C146.89,231.74 147.40,231.61 147.91,231.48 C148.42,231.35 148.93,231.23 149.44,231.11 C149.94,230.98 150.45,230.87 150.96,230.75 C151.47,230.64 151.98,230.53 152.49,230.42 C152.99,230.32 153.50,230.21 154.01,230.11 C154.52,230.01 155.03,229.91 155.53,229.82 C156.04,229.73 156.55,229.63 157.06,229.55 C157.57,229.46 158.08,229.37 158.58,229.29 C159.09,229.21 159.60,229.13 160.11,229.05 C160.62,228.98 161.13,228.90 161.63,228.83 C162.14,228.76 162.65,228.70 163.16,228.63 C163.67,228.56 164.17,228.50 164.68,228.44 C165.19,228.38 165.70,228.32 166.21,228.27 C166.72,228.21 167.22,228.16 167.73,228.11 C168.24,228.06 168.75,228.01 169.26,227.96 C169.77,227.91 170.27,227.87 170.78,227.83 C171.29,227.78 171.80,227.74 172.31,227.71 C172.81,227.67 173.32,227.63 173.83,227.60 C174.34,227.56 174.85,227.53 175.36,227.50 C175.86,227.46 176.37,227.43 176.88,227.41 C177.39,227.38 177.90,227.35 178.40,227.33 C178.91,227.30 179.42,227.28 179.93,227.26 C180.44,227.23 180.95,227.21 181.45,227.19 C181.96,227.17 182.47,227.16 182.98,227.14 C183.49,227.12 184.00,227.11 184.50,227.09 C185.01,227.07 185.52,227.06 186.03,227.05 C186.54,227.03 187.04,227.02 187.55,227.01 C188.06,227.00 188.57,226.99 189.08,226.98 C189.59,226.97 190.09,226.96 190.60,226.95 C191.11,226.94 191.62,226.93 192.13,226.93 C192.64,226.92 193.14,226.91 193.65,226.91 C194.16,226.90 194.67,226.89 195.18,226.89 C195.68,226.88 196.19,226.87 196.70,226.87 C197.21,226.86 197.72,226.86 198.23,226.85 C198.73,226.85 199.24,226.84 199.75,226.84 C200.26,226.83 200.77,226.82 201.28,226.82 C201.78,226.81 202.55,226.80 202.80,226.80" fill="none" stroke="#a8284a" stroke-width="1.25" stroke-linecap="butt"/>
<path d="M76.00,260.59 C76.25,260.18 77.02,258.98 77.53,258.15 C78.04,257.33 78.55,256.49 79.06,255.64 C79.56,254.80 80.07,253.94 80.58,253.08 C81.09,252.21 81.60,251.34 82.11,250.46 C82.62,249.59 83.13,248.70 83.64,247.81 C84.15,246.92 84.66,246.03 85.17,245.13 C85.68,244.24 86.18,243.33 86.69,242.43 C87.20,241.53 87.71,240.63 88.22,239.73 C88.73,238.82 89.24,237.92 89.75,237.02 C90.26,236.12 90.77,235.22 91.28,234.33 C91.79,233.43 92.30,232.54 92.80,231.66 C93.31,230.77 93.82,229.89 94.33,229.03 C94.84,228.16 95.35,227.30 95.86,226.45 C96.37,225.61 96.88,224.77 97.39,223.96 C97.90,223.14 98.41,222.34 98.92,221.55 C99.42,220.77 99.93,220.01 100.44,219.26 C100.95,218.52 101.46,217.80 101.97,217.11 C102.48,216.41 102.99,215.74 103.50,215.10 C104.01,214.45 104.52,213.84 105.03,213.25 C105.54,212.66 106.04,212.10 106.55,211.57 C107.06,211.03 107.57,210.52 108.08,210.04 C108.59,209.55 109.10,209.09 109.61,208.66 C110.12,208.22 110.63,207.81 111.14,207.42 C111.65,207.03 112.16,206.66 112.67,206.32 C113.17,205.97 113.68,205.65 114.19,205.34 C114.70,205.04 115.21,204.76 115.72,204.49 C116.23,204.23 116.74,203.98 117.25,203.76 C117.76,203.53 118.27,203.32 118.78,203.13 C119.29,202.94 119.79,202.77 120.30,202.62 C120.81,202.46 121.32,202.33 121.83,202.21 C122.34,202.09 122.85,201.98 123.36,201.89 C123.87,201.80 124.38,201.73 124.89,201.67 C125.40,201.61 125.91,201.57 126.41,201.54 C126.92,201.51 127.43,201.50 127.94,201.50 C128.45,201.49 128.96,201.51 129.47,201.53 C129.98,201.55 130.49,201.59 131.00,201.64 C131.51,201.69 132.02,201.75 132.53,201.82 C133.03,201.89 133.54,201.97 134.05,202.06 C134.56,202.15 135.07,202.25 135.58,202.35 C136.09,202.45 136.60,202.55 137.11,202.66 C137.62,202.77 138.13,202.88 138.64,202.98 C139.15,203.09 139.65,203.19 140.16,203.29 C140.67,203.39 141.18,203.49 141.69,203.58 C142.20,203.66 142.71,203.75 143.22,203.82 C143.73,203.89 144.24,203.95 144.75,203.99 C145.26,204.04 145.77,204.07 146.27,204.09 C146.78,204.11 147.29,204.11 147.80,204.09 C148.31,204.08 148.82,204.04 149.33,204.00 C149.84,203.95 150.35,203.89 150.86,203.82 C151.37,203.75 151.88,203.67 152.39,203.57 C152.89,203.47 153.40,203.37 153.91,203.25 C154.42,203.13 154.93,203.00 155.44,202.87 C155.95,202.73 156.46,202.59 156.97,202.43 C157.48,202.28 157.99,202.12 158.50,201.96 C159.01,201.79 159.51,201.62 160.02,201.44 C160.53,201.27 161.04,201.08 161.55,200.90 C162.06,200.71 162.57,200.53 163.08,200.34 C163.59,200.15 164.10,199.95 164.61,199.76 C165.12,199.57 165.63,199.37 166.13,199.18 C166.64,198.99 167.15,198.80 167.66,198.60 C168.17,198.41 168.68,198.22 169.19,198.02 C169.70,197.83 170.21,197.64 170.72,197.45 C171.23,197.26 171.74,197.06 172.25,196.87 C172.76,196.68 173.26,196.49 173.77,196.30 C174.28,196.11 174.79,195.92 175.30,195.73 C175.81,195.54 176.32,195.35 176.83,195.16 C177.34,194.97 177.85,194.79 178.36,194.60 C178.87,194.41 179.38,194.23 179.88,194.04 C180.39,193.86 180.90,193.67 181.41,193.49 C181.92,193.30 182.43,193.12 182.94,192.94 C183.45,192.76 183.96,192.57 184.47,192.39 C184.98,192.21 185.49,192.03 186.00,191.86 C186.50,191.68 187.01,191.50 187.52,191.33 C188.03,191.15 188.54,190.98 189.05,190.80 C189.56,190.63 190.07,190.46 190.58,190.29 C191.09,190.12 191.60,189.95 192.11,189.78 C192.62,189.61 193.12,189.44 193.63,189.28 C194.14,189.11 194.65,188.95 195.16,188.79 C195.67,188.63 196.18,188.47 196.69,188.31 C197.20,188.15 197.71,187.99 198.22,187.84 C198.73,187.68 199.24,187.53 199.74,187.38 C200.25,187.23 200.76,187.08 201.27,186.93 C201.78,186.78 202.55,186.56 202.80,186.49" fill="none" stroke="#3b9b50" stroke-width="1.25" stroke-linecap="butt"/>
<path d="M79.30,250.17 C79.55,249.49 80.32,247.47 80.82,246.12 C81.33,244.78 81.84,243.43 82.35,242.10 C82.86,240.76 83.37,239.43 83.87,238.10 C84.38,236.77 84.89,235.45 85.40,234.13 C85.91,232.82 86.42,231.51 86.92,230.21 C87.43,228.91 87.94,227.61 88.45,226.33 C88.96,225.04 89.46,223.76 89.97,222.49 C90.48,221.23 90.99,219.97 91.50,218.72 C92.01,217.47 92.51,216.23 93.02,215.00 C93.53,213.78 94.04,212.56 94.55,211.36 C95.06,210.15 95.56,208.96 96.07,207.78 C96.58,206.60 97.09,205.44 97.60,204.29 C98.10,203.14 98.61,202.00 99.12,200.87 C99.63,199.75 100.14,198.64 100.65,197.54 C101.15,196.45 101.66,195.36 102.17,194.30 C102.68,193.23 103.19,192.18 103.70,191.14 C104.20,190.11 104.71,189.09 105.22,188.08 C105.73,187.08 106.24,186.09 106.74,185.11 C107.25,184.14 107.76,183.19 108.27,182.25 C108.78,181.31 109.29,180.39 109.79,179.48 C110.30,178.58 110.81,177.69 111.32,176.82 C111.83,175.95 112.33,175.10 112.84,174.27 C113.35,173.43 113.86,172.62 114.37,171.82 C114.88,171.02 115.38,170.23 115.89,169.46 C116.40,168.69 116.91,167.94 117.42,167.20 C117.93,166.46 118.43,165.74 118.94,165.02 C119.45,164.31 119.96,163.62 120.47,162.93 C120.97,162.25 121.48,161.58 121.99,160.92 C122.50,160.26 123.01,159.61 123.52,158.97 C124.02,158.34 124.53,157.71 125.04,157.10 C125.55,156.48 126.06,155.88 126.57,155.28 C127.07,154.69 127.58,154.10 128.09,153.52 C128.60,152.95 129.11,152.38 129.61,151.82 C130.12,151.26 130.63,150.70 131.14,150.16 C131.65,149.61 132.16,149.07 132.66,148.55 C133.17,148.02 133.68,147.50 134.19,146.99 C134.70,146.49 135.21,145.99 135.71,145.51 C136.22,145.03 136.73,144.56 137.24,144.11 C137.75,143.66 138.25,143.22 138.76,142.81 C139.27,142.39 139.78,141.99 140.29,141.61 C140.80,141.23 141.30,140.87 141.81,140.54 C142.32,140.20 142.83,139.89 143.34,139.60 C143.85,139.31 144.35,139.04 144.86,138.78 C145.37,138.53 145.88,138.30 146.39,138.08 C146.89,137.87 147.40,137.67 147.91,137.48 C148.42,137.29 148.93,137.12 149.44,136.96 C149.94,136.80 150.45,136.65 150.96,136.50 C151.47,136.36 151.98,136.23 152.49,136.10 C152.99,135.97 153.50,135.84 154.01,135.72 C154.52,135.60 155.03,135.48 155.53,135.37 C156.04,135.26 156.55,135.15 157.06,135.06 C157.57,134.96 158.08,134.86 158.58,134.78 C159.09,134.70 159.60,134.62 160.11,134.56 C160.62,134.50 161.13,134.45 161.63,134.41 C162.14,134.37 162.65,134.35 163.16,134.34 C163.67,134.33 164.17,134.33 164.68,134.36 C165.19,134.38 165.70,134.42 166.21,134.48 C166.72,134.54 167.22,134.61 167.73,134.71 C168.24,134.81 168.75,134.93 169.26,135.08 C169.77,135.22 170.27,135.39 170.78,135.58 C171.29,135.77 171.80,135.98 172.31,136.22 C172.81,136.45 173.32,136.71 173.83,136.98 C174.34,137.25 174.85,137.54 175.36,137.84 C175.86,138.13 176.37,138.45 176.88,138.77 C177.39,139.09 177.90,139.42 178.40,139.76 C178.91,140.09 179.42,140.44 179.93,140.78 C180.44,141.12 180.95,141.47 181.45,141.81 C181.96,142.16 182.47,142.50 182.98,142.84 C183.49,143.18 184.00,143.52 184.50,143.85 C185.01,144.18 185.52,144.51 186.03,144.83 C186.54,145.16 187.04,145.47 187.55,145.78 C188.06,146.09 188.57,146.39 189.08,146.67 C189.59,146.96 190.09,147.24 190.60,147.51 C191.11,147.78 191.62,148.03 192.13,148.28 C192.64,148.52 193.14,148.75 193.65,148.97 C194.16,149.19 194.67,149.40 195.18,149.61 C195.68,149.82 196.19,150.02 196.70,150.22 C197.21,150.42 197.72,150.62 198.23,150.83 C198.73,151.03 199.24,151.23 199.75,151.44 C200.26,151.66 200.77,151.87 201.28,152.10 C201.78,152.33 202.55,152.70 202.80,152.82" fill="none" stroke="#223f64" stroke-width="1.25" stroke-linecap="butt"/>
<path d="M232.30,284.01 C232.55,283.93 233.32,283.66 233.83,283.49 C234.34,283.31 234.85,283.14 235.36,282.97 C235.87,282.80 236.38,282.64 236.89,282.47 C237.40,282.31 237.91,282.15 238.42,281.99 C238.93,281.83 239.44,281.68 239.95,281.53 C240.46,281.38 240.97,281.23 241.48,281.09 C241.99,280.95 242.50,280.81 243.01,280.67 C243.52,280.54 244.03,280.41 244.54,280.29 C245.05,280.16 245.56,280.04 246.07,279.93 C246.58,279.81 247.09,279.70 247.60,279.60 C248.11,279.50 248.62,279.40 249.13,279.31 C249.64,279.22 250.15,279.13 250.66,279.05 C251.17,278.97 251.68,278.90 252.19,278.83 C252.70,278.77 253.20,278.71 253.71,278.66 C254.22,278.61 254.73,278.56 255.24,278.52 C255.75,278.49 256.26,278.46 256.77,278.44 C257.28,278.42 257.79,278.40 258.30,278.40 C258.81,278.39 259.32,278.39 259.83,278.40 C260.34,278.41 260.85,278.42 261.36,278.44 C261.87,278.46 262.38,278.49 262.89,278.52 C263.40,278.55 263.91,278.59 264.42,278.64 C264.93,278.68 265.44,278.73 265.95,278.78 C266.46,278.84 266.97,278.90 267.48,278.96 C267.99,279.03 268.50,279.09 269.01,279.17 C269.52,279.24 270.03,279.32 270.54,279.40 C271.05,279.48 271.56,279.56 272.07,279.65 C272.58,279.73 273.09,279.82 273.60,279.92 C274.11,280.01 274.62,280.11 275.13,280.21 C275.64,280.30 276.15,280.40 276.66,280.51 C277.17,280.61 277.68,280.71 278.19,280.82 C278.70,280.93 279.21,281.03 279.72,281.14 C280.23,281.25 280.74,281.36 281.25,281.47 C281.76,281.58 282.27,281.69 282.78,281.80 C283.29,281.91 283.80,282.02 284.31,282.13 C284.82,282.24 285.33,282.35 285.84,282.46 C286.35,282.57 286.86,282.68 287.37,282.79 C287.88,282.89 288.39,283.00 288.90,283.10 C289.41,283.20 289.92,283.30 290.43,283.40 C290.94,283.50 291.45,283.59 291.96,283.68 C292.47,283.77 292.98,283.86 293.49,283.95 C294.00,284.03 294.50,284.11 295.01,284.18 C295.52,284.26 296.03,284.33 296.54,284.40 C297.05,284.46 297.56,284.52 298.07,284.58 C298.58,284.64 299.09,284.69 299.60,284.74 C300.11,284.79 300.62,284.84 301.13,284.88 C301.64,284.92 302.15,284.96 302.66,284.99 C303.17,285.03 303.68,285.06 304.19,285.08 C304.70,285.11 305.21,285.13 305.72,285.15 C306.23,285.17 306.74,285.18 307.25,285.20 C307.76,285.21 308.27,285.22 308.78,285.22 C309.29,285.23 309.80,285.23 310.31,285.23 C310.82,285.23 311.33,285.23 311.84,285.22 C312.35,285.21 312.86,285.20 313.37,285.19 C313.88,285.18 314.39,285.16 314.90,285.14 C315.41,285.12 315.92,285.10 316.43,285.08 C316.94,285.06 317.45,285.03 317.96,285.00 C318.47,284.97 318.98,284.94 319.49,284.91 C320.00,284.88 320.51,284.85 321.02,284.81 C321.53,284.78 322.04,284.74 322.55,284.70 C323.06,284.66 323.57,284.62 324.08,284.58 C324.59,284.54 325.10,284.50 325.61,284.46 C326.12,284.42 326.63,284.38 327.14,284.33 C327.65,284.29 328.16,284.25 328.67,284.21 C329.18,284.16 329.69,284.12 330.20,284.08 C330.71,284.03 331.22,283.99 331.73,283.95 C332.24,283.91 332.75,283.86 333.26,283.82 C333.77,283.78 334.28,283.74 334.79,283.70 C335.30,283.67 335.80,283.63 336.31,283.59 C336.82,283.56 337.33,283.52 337.84,283.49 C338.35,283.45 338.86,283.42 339.37,283.39 C339.88,283.36 340.39,283.34 340.90,283.31 C341.41,283.29 341.92,283.26 342.43,283.24 C342.94,283.22 343.45,283.21 343.96,283.19 C344.47,283.18 344.98,283.17 345.49,283.16 C346.00,283.15 346.51,283.14 347.02,283.14 C347.53,283.14 348.04,283.14 348.55,283.15 C349.06,283.15 349.57,283.16 350.08,283.18 C350.59,283.19 351.10,283.21 351.61,283.23 C352.12,283.25 352.63,283.28 353.14,283.31 C353.65,283.34 354.16,283.37 354.67,283.41 C355.18,283.45 355.95,283.53 356.20,283.55" fill="none" stroke="#a8284a" stroke-width="1.25" stroke-linecap="butt"/>
<path d="M232.30,285.81 C232.55,285.79 233.32,285.72 233.83,285.68 C234.34,285.63 234.85,285.58 235.36,285.54 C235.87,285.49 236.38,285.44 236.89,285.39 C237.40,285.34 237.91,285.29 238.42,285.24 C238.93,285.19 239.44,285.13 239.95,285.08 C240.46,285.03 240.97,284.97 241.48,284.92 C241.99,284.86 242.50,284.81 243.01,284.75 C243.52,284.69 244.03,284.64 244.54,284.58 C245.05,284.52 245.56,284.46 246.07,284.40 C246.58,284.34 247.09,284.28 247.60,284.22 C248.11,284.16 248.62,284.10 249.13,284.04 C249.64,283.98 250.15,283.92 250.66,283.85 C251.17,283.79 251.68,283.73 252.19,283.66 C252.70,283.60 253.20,283.53 253.71,283.47 C254.22,283.40 254.73,283.34 255.24,283.27 C255.75,283.21 256.26,283.14 256.77,283.07 C257.28,283.01 257.79,282.94 258.30,282.87 C258.81,282.80 259.32,282.73 259.83,282.67 C260.34,282.60 260.85,282.53 261.36,282.46 C261.87,282.39 262.38,282.32 262.89,282.25 C263.40,282.18 263.91,282.11 264.42,282.04 C264.93,281.97 265.44,281.90 265.95,281.83 C266.46,281.76 266.97,281.69 267.48,281.62 C267.99,281.55 268.50,281.47 269.01,281.40 C269.52,281.33 270.03,281.26 270.54,281.19 C271.05,281.12 271.56,281.04 272.07,280.97 C272.58,280.90 273.09,280.83 273.60,280.76 C274.11,280.68 274.62,280.61 275.13,280.54 C275.64,280.47 276.15,280.40 276.66,280.33 C277.17,280.25 277.68,280.18 278.19,280.11 C278.70,280.04 279.21,279.97 279.72,279.89 C280.23,279.82 280.74,279.75 281.25,279.68 C281.76,279.61 282.27,279.54 282.78,279.47 C283.29,279.40 283.80,279.32 284.31,279.25 C284.82,279.18 285.33,279.11 285.84,279.04 C286.35,278.97 286.86,278.90 287.37,278.83 C287.88,278.76 288.39,278.69 288.90,278.63 C289.41,278.56 289.92,278.49 290.43,278.42 C290.94,278.35 291.45,278.28 291.96,278.22 C292.47,278.15 292.98,278.08 293.49,278.01 C294.00,277.95 294.50,277.88 295.01,277.82 C295.52,277.75 296.03,277.69 296.54,277.62 C297.05,277.56 297.56,277.49 298.07,277.43 C298.58,277.36 299.09,277.30 299.60,277.24 C300.11,277.18 300.62,277.11 301.13,277.05 C301.64,276.99 302.15,276.93 302.66,276.87 C303.17,276.81 303.68,276.75 304.19,276.69 C304.70,276.63 305.21,276.57 305.72,276.52 C306.23,276.46 306.74,276.40 307.25,276.35 C307.76,276.29 308.27,276.24 308.78,276.18 C309.29,276.13 309.80,276.07 310.31,276.02 C310.82,275.97 311.33,275.92 311.84,275.87 C312.35,275.81 312.86,275.76 313.37,275.72 C313.88,275.67 314.39,275.62 314.90,275.57 C315.41,275.52 315.92,275.48 316.43,275.43 C316.94,275.39 317.45,275.34 317.96,275.30 C318.47,275.25 318.98,275.21 319.49,275.17 C320.00,275.13 320.51,275.09 321.02,275.05 C321.53,275.01 322.04,274.97 322.55,274.93 C323.06,274.90 323.57,274.86 324.08,274.83 C324.59,274.79 325.10,274.76 325.61,274.73 C326.12,274.69 326.63,274.66 327.14,274.63 C327.65,274.60 328.16,274.57 328.67,274.54 C329.18,274.52 329.69,274.49 330.20,274.47 C330.71,274.44 331.22,274.42 331.73,274.39 C332.24,274.37 332.75,274.35 333.26,274.33 C333.77,274.31 334.28,274.29 334.79,274.28 C335.30,274.26 335.80,274.24 336.31,274.23 C336.82,274.22 337.33,274.20 337.84,274.19 C338.35,274.18 338.86,274.17 339.37,274.16 C339.88,274.15 340.39,274.15 340.90,274.14 C341.41,274.14 341.92,274.13 342.43,274.13 C342.94,274.13 343.45,274.13 343.96,274.13 C344.47,274.13 344.98,274.13 345.49,274.14 C346.00,274.14 346.51,274.15 347.02,274.16 C347.53,274.17 348.04,274.17 348.55,274.19 C349.06,274.20 349.57,274.21 350.08,274.22 C350.59,274.24 351.10,274.26 351.61,274.27 C352.12,274.29 352.63,274.31 353.14,274.33 C353.65,274.36 354.16,274.38 354.67,274.41 C355.18,274.43 355.95,274.47 356.20,274.49" fill="none" stroke="#223f64" stroke-width="1.25" stroke-linecap="butt"/>
<path d="M229.10,293.48 C229.36,293.36 230.12,292.99 230.63,292.74 C231.14,292.50 231.65,292.26 232.16,292.02 C232.67,291.79 233.18,291.55 233.69,291.32 C234.20,291.09 234.71,290.86 235.23,290.63 C235.74,290.41 236.25,290.19 236.76,289.97 C237.27,289.75 237.78,289.53 238.29,289.31 C238.80,289.10 239.31,288.89 239.82,288.68 C240.33,288.47 240.84,288.27 241.35,288.06 C241.86,287.86 242.37,287.66 242.88,287.47 C243.39,287.27 243.90,287.08 244.41,286.89 C244.92,286.70 245.43,286.51 245.94,286.33 C246.46,286.15 246.97,285.97 247.48,285.79 C247.99,285.61 248.50,285.44 249.01,285.27 C249.52,285.10 250.03,284.94 250.54,284.77 C251.05,284.61 251.56,284.45 252.07,284.29 C252.58,284.14 253.09,283.99 253.60,283.84 C254.11,283.69 254.62,283.54 255.13,283.40 C255.64,283.26 256.15,283.12 256.66,282.99 C257.17,282.86 257.68,282.72 258.20,282.60 C258.71,282.47 259.22,282.35 259.73,282.23 C260.24,282.11 260.75,282.00 261.26,281.89 C261.77,281.77 262.28,281.67 262.79,281.56 C263.30,281.46 263.81,281.36 264.32,281.27 C264.83,281.17 265.34,281.08 265.85,280.99 C266.36,280.91 266.87,280.82 267.38,280.74 C267.89,280.67 268.40,280.59 268.91,280.52 C269.42,280.45 269.94,280.38 270.45,280.32 C270.96,280.26 271.47,280.20 271.98,280.15 C272.49,280.10 273.00,280.05 273.51,280.00 C274.02,279.96 274.53,279.92 275.04,279.88 C275.55,279.85 276.06,279.82 276.57,279.79 C277.08,279.76 277.59,279.74 278.10,279.73 C278.61,279.71 279.12,279.70 279.63,279.69 C280.14,279.69 280.65,279.69 281.17,279.69 C281.68,279.70 282.19,279.71 282.70,279.73 C283.21,279.74 283.72,279.77 284.23,279.80 C284.74,279.83 285.25,279.86 285.76,279.91 C286.27,279.95 286.78,280.00 287.29,280.06 C287.80,280.12 288.31,280.18 288.82,280.26 C289.33,280.33 289.84,280.41 290.35,280.49 C290.86,280.57 291.37,280.66 291.88,280.75 C292.39,280.84 292.91,280.93 293.42,281.03 C293.93,281.12 294.44,281.22 294.95,281.31 C295.46,281.40 295.97,281.49 296.48,281.58 C296.99,281.66 297.50,281.75 298.01,281.83 C298.52,281.91 299.03,281.98 299.54,282.05 C300.05,282.11 300.56,282.17 301.07,282.22 C301.58,282.27 302.09,282.31 302.60,282.34 C303.11,282.37 303.62,282.39 304.13,282.40 C304.65,282.42 305.16,282.42 305.67,282.42 C306.18,282.42 306.69,282.41 307.20,282.39 C307.71,282.38 308.22,282.35 308.73,282.33 C309.24,282.30 309.75,282.27 310.26,282.23 C310.77,282.20 311.28,282.16 311.79,282.12 C312.30,282.07 312.81,282.03 313.32,281.98 C313.83,281.94 314.34,281.89 314.85,281.84 C315.36,281.79 315.88,281.74 316.39,281.68 C316.90,281.63 317.41,281.58 317.92,281.53 C318.43,281.48 318.94,281.43 319.45,281.37 C319.96,281.32 320.47,281.27 320.98,281.22 C321.49,281.16 322.00,281.11 322.51,281.06 C323.02,281.01 323.53,280.96 324.04,280.91 C324.55,280.86 325.06,280.81 325.57,280.76 C326.08,280.71 326.59,280.66 327.10,280.62 C327.62,280.57 328.13,280.52 328.64,280.48 C329.15,280.44 329.66,280.40 330.17,280.35 C330.68,280.31 331.19,280.27 331.70,280.24 C332.21,280.20 332.72,280.16 333.23,280.12 C333.74,280.09 334.25,280.05 334.76,280.02 C335.27,279.99 335.78,279.95 336.29,279.92 C336.80,279.89 337.31,279.86 337.82,279.83 C338.33,279.80 338.84,279.77 339.36,279.75 C339.87,279.72 340.38,279.69 340.89,279.66 C341.40,279.64 341.91,279.61 342.42,279.59 C342.93,279.56 343.44,279.54 343.95,279.51 C344.46,279.49 344.97,279.47 345.48,279.44 C345.99,279.42 346.50,279.40 347.01,279.38 C347.52,279.36 348.03,279.33 348.54,279.31 C349.05,279.29 349.56,279.27 350.07,279.25 C350.59,279.23 351.10,279.21 351.61,279.19 C352.12,279.17 352.63,279.14 353.14,279.12 C353.65,279.10 354.16,279.08 354.67,279.06 C355.18,279.04 355.94,279.01 356.20,279.00" fill="none" stroke="#3b9b50" stroke-width="1.25" stroke-linecap="butt"/>
<path d="M385.40,291.59 C385.66,291.41 386.42,290.87 386.94,290.52 C387.45,290.17 387.96,289.82 388.47,289.48 C388.98,289.13 389.50,288.80 390.01,288.46 C390.52,288.13 391.03,287.81 391.54,287.49 C392.06,287.16 392.57,286.85 393.08,286.54 C393.59,286.23 394.10,285.93 394.61,285.63 C395.13,285.34 395.64,285.05 396.15,284.77 C396.66,284.48 397.17,284.21 397.69,283.94 C398.20,283.67 398.71,283.41 399.22,283.16 C399.73,282.90 400.25,282.65 400.76,282.42 C401.27,282.18 401.78,281.95 402.29,281.72 C402.81,281.50 403.32,281.29 403.83,281.08 C404.34,280.87 404.85,280.68 405.37,280.49 C405.88,280.30 406.39,280.12 406.90,279.95 C407.41,279.78 407.93,279.61 408.44,279.46 C408.95,279.31 409.46,279.16 409.97,279.03 C410.48,278.90 411.00,278.77 411.51,278.66 C412.02,278.55 412.53,278.44 413.04,278.35 C413.56,278.25 414.07,278.17 414.58,278.09 C415.09,278.02 415.60,277.95 416.12,277.89 C416.63,277.83 417.14,277.78 417.65,277.74 C418.16,277.70 418.68,277.66 419.19,277.64 C419.70,277.61 420.21,277.59 420.72,277.58 C421.24,277.57 421.75,277.56 422.26,277.56 C422.77,277.56 423.28,277.57 423.80,277.59 C424.31,277.60 424.82,277.62 425.33,277.65 C425.84,277.68 426.35,277.71 426.87,277.75 C427.38,277.79 427.89,277.83 428.40,277.88 C428.91,277.93 429.43,277.98 429.94,278.04 C430.45,278.10 430.96,278.16 431.47,278.22 C431.99,278.29 432.50,278.36 433.01,278.43 C433.52,278.51 434.03,278.59 434.55,278.67 C435.06,278.75 435.57,278.83 436.08,278.92 C436.59,279.00 437.11,279.09 437.62,279.18 C438.13,279.27 438.64,279.36 439.15,279.46 C439.67,279.55 440.18,279.64 440.69,279.74 C441.20,279.83 441.71,279.93 442.22,280.03 C442.74,280.12 443.25,280.22 443.76,280.31 C444.27,280.41 444.78,280.50 445.30,280.60 C445.81,280.69 446.32,280.78 446.83,280.87 C447.34,280.96 447.86,281.05 448.37,281.14 C448.88,281.22 449.39,281.31 449.90,281.39 C450.42,281.47 450.93,281.55 451.44,281.62 C451.95,281.69 452.46,281.76 452.98,281.83 C453.49,281.90 454.00,281.96 454.51,282.01 C455.02,282.07 455.53,282.12 456.05,282.17 C456.56,282.22 457.07,282.26 457.58,282.30 C458.09,282.34 458.61,282.38 459.12,282.41 C459.63,282.44 460.14,282.47 460.65,282.49 C461.17,282.51 461.68,282.53 462.19,282.55 C462.70,282.57 463.21,282.58 463.73,282.59 C464.24,282.60 464.75,282.60 465.26,282.60 C465.77,282.61 466.29,282.61 466.80,282.60 C467.31,282.60 467.82,282.59 468.33,282.58 C468.85,282.57 469.36,282.56 469.87,282.54 C470.38,282.53 470.89,282.51 471.40,282.49 C471.92,282.47 472.43,282.45 472.94,282.43 C473.45,282.40 473.96,282.38 474.48,282.35 C474.99,282.32 475.50,282.29 476.01,282.26 C476.52,282.23 477.04,282.20 477.55,282.16 C478.06,282.13 478.57,282.10 479.08,282.06 C479.60,282.03 480.11,281.99 480.62,281.95 C481.13,281.92 481.64,281.88 482.16,281.84 C482.67,281.81 483.18,281.77 483.69,281.73 C484.20,281.70 484.72,281.66 485.23,281.62 C485.74,281.58 486.25,281.55 486.76,281.51 C487.27,281.47 487.79,281.44 488.30,281.40 C488.81,281.37 489.32,281.34 489.83,281.30 C490.35,281.27 490.86,281.24 491.37,281.21 C491.88,281.18 492.39,281.15 492.91,281.12 C493.42,281.10 493.93,281.07 494.44,281.05 C494.95,281.02 495.47,281.00 495.98,280.98 C496.49,280.96 497.00,280.95 497.51,280.93 C498.03,280.92 498.54,280.91 499.05,280.90 C499.56,280.89 500.07,280.88 500.59,280.88 C501.10,280.88 501.61,280.88 502.12,280.88 C502.63,280.88 503.14,280.89 503.66,280.90 C504.17,280.91 504.68,280.93 505.19,280.94 C505.70,280.96 506.22,280.98 506.73,281.01 C507.24,281.04 507.75,281.07 508.26,281.10 C508.78,281.14 509.54,281.20 509.80,281.22" fill="none" stroke="#a8284a" stroke-width="1.25" stroke-linecap="butt"/>
<path d="M386.20,272.96 C386.45,272.67 387.22,271.82 387.73,271.24 C388.23,270.67 388.74,270.10 389.25,269.52 C389.76,268.95 390.27,268.37 390.78,267.79 C391.29,267.22 391.80,266.64 392.30,266.06 C392.81,265.49 393.32,264.91 393.83,264.34 C394.34,263.76 394.85,263.19 395.36,262.62 C395.86,262.05 396.37,261.48 396.88,260.91 C397.39,260.34 397.90,259.78 398.41,259.22 C398.92,258.66 399.42,258.10 399.93,257.55 C400.44,257.00 400.95,256.45 401.46,255.90 C401.97,255.36 402.48,254.82 402.99,254.28 C403.49,253.75 404.00,253.22 404.51,252.70 C405.02,252.18 405.53,251.66 406.04,251.16 C406.55,250.65 407.05,250.14 407.56,249.65 C408.07,249.16 408.58,248.67 409.09,248.19 C409.60,247.72 410.11,247.25 410.61,246.79 C411.12,246.33 411.63,245.88 412.14,245.44 C412.65,245.00 413.16,244.56 413.67,244.14 C414.18,243.72 414.68,243.31 415.19,242.92 C415.70,242.52 416.21,242.13 416.72,241.75 C417.23,241.37 417.74,241.01 418.24,240.65 C418.75,240.29 419.26,239.94 419.77,239.60 C420.28,239.26 420.79,238.92 421.30,238.60 C421.80,238.27 422.31,237.95 422.82,237.64 C423.33,237.33 423.84,237.02 424.35,236.72 C424.86,236.42 425.37,236.12 425.87,235.83 C426.38,235.53 426.89,235.25 427.40,234.96 C427.91,234.68 428.42,234.39 428.93,234.11 C429.43,233.83 429.94,233.56 430.45,233.28 C430.96,233.01 431.47,232.73 431.98,232.46 C432.49,232.18 433.00,231.91 433.50,231.64 C434.01,231.36 434.52,231.09 435.03,230.82 C435.54,230.55 436.05,230.28 436.56,230.01 C437.06,229.74 437.57,229.48 438.08,229.22 C438.59,228.95 439.10,228.69 439.61,228.43 C440.12,228.17 440.62,227.92 441.13,227.67 C441.64,227.42 442.15,227.17 442.66,226.92 C443.17,226.68 443.68,226.44 444.19,226.20 C444.69,225.97 445.20,225.73 445.71,225.51 C446.22,225.28 446.73,225.06 447.24,224.84 C447.75,224.63 448.25,224.42 448.76,224.21 C449.27,224.01 449.78,223.81 450.29,223.61 C450.80,223.42 451.31,223.23 451.81,223.05 C452.32,222.86 452.83,222.68 453.34,222.51 C453.85,222.34 454.36,222.17 454.87,222.01 C455.38,221.84 455.88,221.68 456.39,221.53 C456.90,221.38 457.41,221.23 457.92,221.09 C458.43,220.94 458.94,220.81 459.44,220.67 C459.95,220.54 460.46,220.41 460.97,220.29 C461.48,220.16 461.99,220.05 462.50,219.93 C463.00,219.82 463.51,219.71 464.02,219.60 C464.53,219.50 465.04,219.40 465.55,219.31 C466.06,219.21 466.57,219.12 467.07,219.03 C467.58,218.95 468.09,218.87 468.60,218.79 C469.11,218.71 469.62,218.64 470.13,218.57 C470.63,218.50 471.14,218.44 471.65,218.38 C472.16,218.32 472.67,218.27 473.18,218.22 C473.69,218.17 474.20,218.12 474.70,218.08 C475.21,218.04 475.72,218.00 476.23,217.96 C476.74,217.93 477.25,217.90 477.76,217.88 C478.26,217.85 478.77,217.83 479.28,217.81 C479.79,217.79 480.30,217.78 480.81,217.77 C481.32,217.76 481.82,217.76 482.33,217.76 C482.84,217.75 483.35,217.76 483.86,217.76 C484.37,217.77 484.88,217.78 485.39,217.79 C485.89,217.81 486.40,217.82 486.91,217.84 C487.42,217.87 487.93,217.89 488.44,217.92 C488.95,217.95 489.45,217.98 489.96,218.01 C490.47,218.05 490.98,218.09 491.49,218.13 C492.00,218.17 492.51,218.22 493.01,218.27 C493.52,218.32 494.03,218.37 494.54,218.43 C495.05,218.48 495.56,218.54 496.07,218.61 C496.58,218.67 497.08,218.73 497.59,218.80 C498.10,218.87 498.61,218.95 499.12,219.02 C499.63,219.10 500.14,219.17 500.64,219.26 C501.15,219.34 501.66,219.42 502.17,219.51 C502.68,219.60 503.19,219.69 503.70,219.78 C504.20,219.88 504.71,219.97 505.22,220.07 C505.73,220.17 506.24,220.27 506.75,220.38 C507.26,220.49 507.77,220.59 508.27,220.70 C508.78,220.81 509.55,220.99 509.80,221.04" fill="none" stroke="#223f64" stroke-width="1.25" stroke-linecap="butt"/>
<path d="M382.50,282.16 C382.76,281.74 383.52,280.45 384.03,279.64 C384.54,278.84 385.06,278.07 385.57,277.32 C386.08,276.57 386.59,275.86 387.10,275.16 C387.61,274.47 388.12,273.80 388.63,273.14 C389.15,272.48 389.66,271.85 390.17,271.22 C390.68,270.60 391.19,269.99 391.70,269.38 C392.21,268.77 392.72,268.18 393.24,267.58 C393.75,266.98 394.26,266.39 394.77,265.80 C395.28,265.20 395.79,264.60 396.30,263.99 C396.81,263.39 397.33,262.77 397.84,262.15 C398.35,261.52 398.86,260.88 399.37,260.24 C399.88,259.60 400.39,258.95 400.90,258.30 C401.42,257.65 401.93,256.99 402.44,256.34 C402.95,255.69 403.46,255.03 403.97,254.38 C404.48,253.74 404.99,253.09 405.51,252.46 C406.02,251.82 406.53,251.19 407.04,250.58 C407.55,249.97 408.06,249.36 408.57,248.77 C409.08,248.19 409.60,247.62 410.11,247.06 C410.62,246.51 411.13,245.98 411.64,245.47 C412.15,244.96 412.66,244.48 413.17,244.02 C413.69,243.56 414.20,243.13 414.71,242.73 C415.22,242.33 415.73,241.96 416.24,241.62 C416.75,241.27 417.26,240.96 417.78,240.68 C418.29,240.40 418.80,240.14 419.31,239.91 C419.82,239.68 420.33,239.48 420.84,239.31 C421.35,239.13 421.87,238.98 422.38,238.85 C422.89,238.72 423.40,238.62 423.91,238.53 C424.42,238.45 424.93,238.39 425.44,238.35 C425.96,238.31 426.47,238.29 426.98,238.30 C427.49,238.30 428.00,238.33 428.51,238.38 C429.02,238.43 429.53,238.51 430.05,238.61 C430.56,238.71 431.07,238.84 431.58,238.98 C432.09,239.12 432.60,239.29 433.11,239.47 C433.62,239.66 434.14,239.86 434.65,240.07 C435.16,240.29 435.67,240.52 436.18,240.76 C436.69,241.00 437.20,241.25 437.71,241.51 C438.23,241.77 438.74,242.03 439.25,242.30 C439.76,242.57 440.27,242.85 440.78,243.13 C441.29,243.40 441.80,243.68 442.32,243.95 C442.83,244.23 443.34,244.50 443.85,244.77 C444.36,245.03 444.87,245.30 445.38,245.55 C445.89,245.80 446.41,246.05 446.92,246.30 C447.43,246.54 447.94,246.77 448.45,247.00 C448.96,247.23 449.47,247.46 449.98,247.68 C450.50,247.90 451.01,248.11 451.52,248.32 C452.03,248.53 452.54,248.73 453.05,248.93 C453.56,249.13 454.07,249.32 454.59,249.51 C455.10,249.70 455.61,249.88 456.12,250.06 C456.63,250.24 457.14,250.42 457.65,250.59 C458.16,250.76 458.68,250.93 459.19,251.09 C459.70,251.25 460.21,251.41 460.72,251.57 C461.23,251.73 461.74,251.88 462.25,252.03 C462.77,252.18 463.28,252.32 463.79,252.47 C464.30,252.61 464.81,252.75 465.32,252.89 C465.83,253.02 466.34,253.16 466.86,253.29 C467.37,253.42 467.88,253.55 468.39,253.68 C468.90,253.81 469.41,253.94 469.92,254.06 C470.43,254.18 470.95,254.31 471.46,254.43 C471.97,254.55 472.48,254.67 472.99,254.78 C473.50,254.90 474.01,255.02 474.52,255.13 C475.04,255.25 475.55,255.36 476.06,255.48 C476.57,255.59 477.08,255.70 477.59,255.81 C478.10,255.93 478.61,256.04 479.13,256.15 C479.64,256.26 480.15,256.37 480.66,256.48 C481.17,256.59 481.68,256.70 482.19,256.80 C482.70,256.91 483.22,257.01 483.73,257.12 C484.24,257.22 484.75,257.32 485.26,257.42 C485.77,257.52 486.28,257.62 486.79,257.72 C487.31,257.81 487.82,257.91 488.33,258.00 C488.84,258.09 489.35,258.18 489.86,258.27 C490.37,258.35 490.88,258.44 491.40,258.52 C491.91,258.60 492.42,258.68 492.93,258.75 C493.44,258.83 493.95,258.90 494.46,258.97 C494.97,259.04 495.49,259.11 496.00,259.17 C496.51,259.23 497.02,259.29 497.53,259.35 C498.04,259.40 498.55,259.45 499.06,259.50 C499.58,259.55 500.09,259.59 500.60,259.63 C501.11,259.67 501.62,259.71 502.13,259.74 C502.64,259.77 503.15,259.79 503.67,259.81 C504.18,259.84 504.69,259.85 505.20,259.86 C505.71,259.88 506.22,259.88 506.73,259.88 C507.24,259.89 507.76,259.88 508.27,259.87 C508.78,259.86 509.54,259.84 509.80,259.83" fill="none" stroke="#3b9b50" stroke-width="1.25" stroke-linecap="butt"/>
<path d="M68.30,31.5 V355.80 H203.10" fill="none" stroke="#1c1c1c" stroke-width="1.7" stroke-linejoin="miter" stroke-linecap="square"/>
<line x1="74.35" y1="355.80" x2="74.35" y2="360.6" stroke="#1c1c1c" stroke-width="1.4"/>
<text transform="translate(74.35,375.7) scale(1.075,1)" class="tl" text-anchor="middle">100</text>
<line x1="113.30" y1="355.80" x2="113.30" y2="360.6" stroke="#1c1c1c" stroke-width="1.4"/>
<text transform="translate(113.30,375.7) scale(1.075,1)" class="tl" text-anchor="middle">300</text>
<line x1="152.25" y1="355.80" x2="152.25" y2="360.6" stroke="#1c1c1c" stroke-width="1.4"/>
<text transform="translate(152.25,375.7) scale(1.075,1)" class="tl" text-anchor="middle">500</text>
<line x1="191.20" y1="355.80" x2="191.20" y2="360.6" stroke="#1c1c1c" stroke-width="1.4"/>
<text transform="translate(191.20,375.7) scale(1.075,1)" class="tl" text-anchor="middle">700</text>
<line x1="64.00" y1="50.60" x2="68.30" y2="50.60" stroke="#1c1c1c" stroke-width="1.4"/>
<line x1="64.00" y1="116.00" x2="68.30" y2="116.00" stroke="#1c1c1c" stroke-width="1.4"/>
<line x1="64.00" y1="181.40" x2="68.30" y2="181.40" stroke="#1c1c1c" stroke-width="1.4"/>
<line x1="64.00" y1="246.80" x2="68.30" y2="246.80" stroke="#1c1c1c" stroke-width="1.4"/>
<line x1="64.00" y1="312.20" x2="68.30" y2="312.20" stroke="#1c1c1c" stroke-width="1.4"/>
<path d="M221.60,31.5 V355.80 H356.40" fill="none" stroke="#1c1c1c" stroke-width="1.7" stroke-linejoin="miter" stroke-linecap="square"/>
<line x1="227.65" y1="355.80" x2="227.65" y2="360.6" stroke="#1c1c1c" stroke-width="1.4"/>
<text transform="translate(227.65,375.7) scale(1.075,1)" class="tl" text-anchor="middle">100</text>
<line x1="266.60" y1="355.80" x2="266.60" y2="360.6" stroke="#1c1c1c" stroke-width="1.4"/>
<text transform="translate(266.60,375.7) scale(1.075,1)" class="tl" text-anchor="middle">300</text>
<line x1="305.55" y1="355.80" x2="305.55" y2="360.6" stroke="#1c1c1c" stroke-width="1.4"/>
<text transform="translate(305.55,375.7) scale(1.075,1)" class="tl" text-anchor="middle">500</text>
<line x1="344.50" y1="355.80" x2="344.50" y2="360.6" stroke="#1c1c1c" stroke-width="1.4"/>
<text transform="translate(344.50,375.7) scale(1.075,1)" class="tl" text-anchor="middle">700</text>
<line x1="217.30" y1="50.60" x2="221.60" y2="50.60" stroke="#1c1c1c" stroke-width="1.4"/>
<line x1="217.30" y1="116.00" x2="221.60" y2="116.00" stroke="#1c1c1c" stroke-width="1.4"/>
<line x1="217.30" y1="181.40" x2="221.60" y2="181.40" stroke="#1c1c1c" stroke-width="1.4"/>
<line x1="217.30" y1="246.80" x2="221.60" y2="246.80" stroke="#1c1c1c" stroke-width="1.4"/>
<line x1="217.30" y1="312.20" x2="221.60" y2="312.20" stroke="#1c1c1c" stroke-width="1.4"/>
<path d="M375.10,31.5 V355.80 H509.90" fill="none" stroke="#1c1c1c" stroke-width="1.7" stroke-linejoin="miter" stroke-linecap="square"/>
<line x1="381.15" y1="355.80" x2="381.15" y2="360.6" stroke="#1c1c1c" stroke-width="1.4"/>
<text transform="translate(381.15,375.7) scale(1.075,1)" class="tl" text-anchor="middle">100</text>
<line x1="420.10" y1="355.80" x2="420.10" y2="360.6" stroke="#1c1c1c" stroke-width="1.4"/>
<text transform="translate(420.10,375.7) scale(1.075,1)" class="tl" text-anchor="middle">300</text>
<line x1="459.05" y1="355.80" x2="459.05" y2="360.6" stroke="#1c1c1c" stroke-width="1.4"/>
<text transform="translate(459.05,375.7) scale(1.075,1)" class="tl" text-anchor="middle">500</text>
<line x1="498.00" y1="355.80" x2="498.00" y2="360.6" stroke="#1c1c1c" stroke-width="1.4"/>
<text transform="translate(498.00,375.7) scale(1.075,1)" class="tl" text-anchor="middle">700</text>
<line x1="370.80" y1="68.90" x2="375.10" y2="68.90" stroke="#1c1c1c" stroke-width="1.4"/>
<line x1="370.80" y1="134.60" x2="375.10" y2="134.60" stroke="#1c1c1c" stroke-width="1.4"/>
<line x1="370.80" y1="199.90" x2="375.10" y2="199.90" stroke="#1c1c1c" stroke-width="1.4"/>
<line x1="370.80" y1="265.50" x2="375.10" y2="265.50" stroke="#1c1c1c" stroke-width="1.4"/>
<line x1="370.80" y1="331.00" x2="375.10" y2="331.00" stroke="#1c1c1c" stroke-width="1.4"/>
<text transform="translate(59.2,54.20) scale(1.10,1)" class="tl" text-anchor="end">4000</text>
<text transform="translate(59.2,119.60) scale(1.10,1)" class="tl" text-anchor="end">3000</text>
<text transform="translate(59.2,185.00) scale(1.10,1)" class="tl" text-anchor="end">2000</text>
<text transform="translate(59.2,250.40) scale(1.10,1)" class="tl" text-anchor="end">1000</text>
<text transform="translate(59.2,315.80) scale(1.10,1)" class="tl" text-anchor="end">0</text>
<text x="135.75" y="22.3" class="tt" text-anchor="middle">ALC</text>
<text x="288.85" y="22.3" class="tt" text-anchor="middle">CD4</text>
<text x="440.10" y="22.3" class="tt" text-anchor="middle">CD8</text>
<text x="-32.2" y="0" class="at" transform="translate(288.65,395.2)" textLength="64.4" lengthAdjust="spacingAndGlyphs">Days post HCT</text>
<text x="-23.1" y="0" class="at" transform="translate(22.6,194.65) rotate(-90)" textLength="46.2" lengthAdjust="spacingAndGlyphs">Cells/mcL</text>
<rect x="83" y="403.7" width="17.8" height="17.8" fill="#dcdcdc"/>
<line x1="84.60" y1="412.7" x2="99.20" y2="412.7" stroke="#a8284a" stroke-width="1.6"/>
<text x="105.50" y="416.1" class="lg" textLength="67.6" lengthAdjust="spacingAndGlyphs">CMV–R–Neg</text>
<rect x="190.4" y="403.7" width="17.8" height="17.8" fill="#dcdcdc"/>
<line x1="192.00" y1="412.7" x2="206.60" y2="412.7" stroke="#223f64" stroke-width="1.6"/>
<text x="212.50" y="416.1" class="lg" textLength="105.8" lengthAdjust="spacingAndGlyphs">CMV–R–Pos/No LET</text>
<rect x="335.4" y="403.7" width="17.8" height="17.8" fill="#dcdcdc"/>
<line x1="337.00" y1="412.7" x2="351.60" y2="412.7" stroke="#3b9b50" stroke-width="1.6"/>
<text x="357.90" y="416.1" class="lg" textLength="136.6" lengthAdjust="spacingAndGlyphs">CMV–R–Pos/LET–exposed</text>
</svg>
</body></html>
